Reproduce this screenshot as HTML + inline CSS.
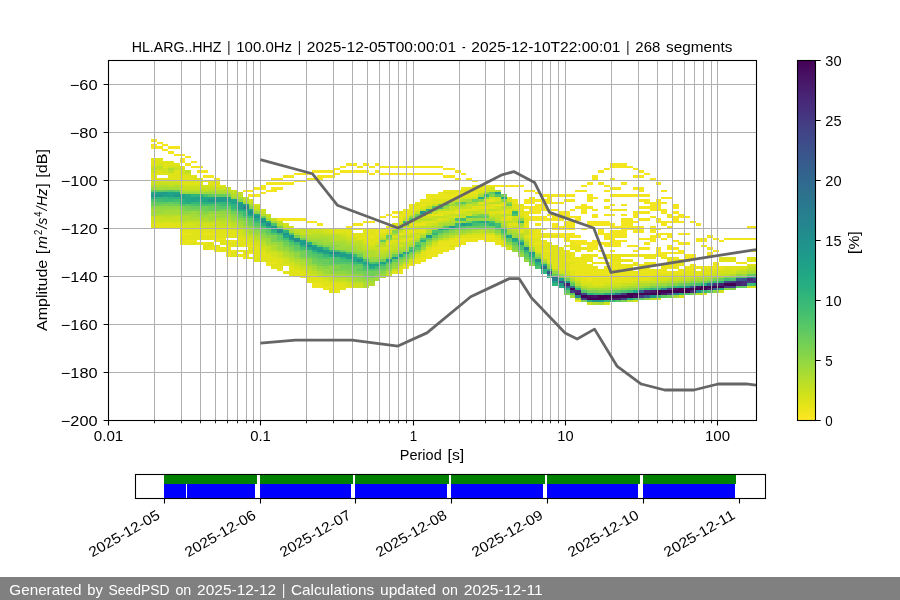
<!DOCTYPE html>
<html lang="en">
<head>
<meta charset="utf-8">
<title>HL.ARG..HHZ PPSD</title>
<style>
html,body{margin:0;padding:0;background:#fff;}
body{width:900px;height:600px;overflow:hidden;font-family:"Liberation Sans",sans-serif;}
svg{display:block;will-change:transform;}
text{white-space:pre;}
</style>
</head>
<body>
<svg width="900" height="600" viewBox="0 0 900 600">
<rect width="900" height="600" fill="#fff"/>
<g shape-rendering="crispEdges">
<path fill="#f4e61e" d="M151.00 139.20h5.78v2.45h-5.78zM156.73 141.60h5.78v2.45h-5.78zM151.00 144.00h5.78v2.45h-5.78zM162.47 144.00h5.78v2.45h-5.78zM151.00 146.40h11.52v2.45h-11.52zM168.20 146.40h11.52v2.45h-11.52zM162.47 148.80h5.78v2.45h-5.78zM168.20 151.20h5.78v2.45h-5.78zM173.93 153.60h11.52v2.45h-11.52zM185.40 156.00h5.78v2.45h-5.78zM179.67 158.40h5.78v2.45h-5.78zM179.67 160.80h5.78v2.45h-5.78zM191.13 160.80h5.78v2.45h-5.78zM185.40 163.20h5.78v2.45h-5.78zM345.94 163.20h11.52v2.45h-11.52zM363.14 163.20h5.78v2.45h-5.78zM374.60 163.20h5.78v2.45h-5.78zM609.67 163.20h17.25v2.45h-17.25zM191.13 165.60h11.52v2.45h-11.52zM340.20 165.60h5.78v2.45h-5.78zM357.40 165.60h5.78v2.45h-5.78zM368.87 165.60h5.78v2.45h-5.78zM380.34 165.60h63.12v2.45h-63.12zM609.67 165.60h22.98v2.45h-22.98zM334.47 168.00h5.78v2.45h-5.78zM443.40 168.00h11.52v2.45h-11.52zM603.94 168.00h5.78v2.45h-5.78zM632.61 168.00h5.78v2.45h-5.78zM196.87 170.40h11.52v2.45h-11.52zM311.54 170.40h22.98v2.45h-22.98zM340.20 170.40h28.72v2.45h-28.72zM374.60 170.40h5.78v2.45h-5.78zM454.87 170.40h5.78v2.45h-5.78zM598.21 170.40h5.78v2.45h-5.78zM638.34 170.40h5.78v2.45h-5.78zM294.34 172.80h17.25v2.45h-17.25zM334.47 172.80h5.78v2.45h-5.78zM368.87 172.80h5.78v2.45h-5.78zM380.34 172.80h63.12v2.45h-63.12zM460.61 172.80h5.78v2.45h-5.78zM644.07 172.80h5.78v2.45h-5.78zM202.60 175.20h11.52v2.45h-11.52zM282.87 175.20h11.52v2.45h-11.52zM317.27 175.20h17.25v2.45h-17.25zM443.40 175.20h11.52v2.45h-11.52zM592.47 175.20h5.78v2.45h-5.78zM632.61 175.20h11.52v2.45h-11.52zM214.07 177.60h5.78v2.45h-5.78zM271.40 177.60h11.52v2.45h-11.52zM305.80 177.60h17.25v2.45h-17.25zM454.87 177.60h5.78v2.45h-5.78zM466.34 177.60h5.78v2.45h-5.78zM592.47 177.60h5.78v2.45h-5.78zM609.67 177.60h5.78v2.45h-5.78zM649.81 177.60h5.78v2.45h-5.78zM294.34 180.00h11.52v2.45h-11.52zM472.07 180.00h5.78v2.45h-5.78zM265.67 182.40h28.72v2.45h-28.72zM586.74 182.40h5.78v2.45h-5.78zM598.21 182.40h5.78v2.45h-5.78zM621.14 182.40h5.78v2.45h-5.78zM655.54 182.40h5.78v2.45h-5.78zM259.94 184.80h5.78v2.45h-5.78zM495.01 184.80h28.72v2.45h-28.72zM581.01 184.80h5.78v2.45h-5.78zM603.94 184.80h5.78v2.45h-5.78zM254.20 187.20h11.52v2.45h-11.52zM271.40 187.20h11.52v2.45h-11.52zM609.67 187.20h11.52v2.45h-11.52zM632.61 187.20h11.52v2.45h-11.52zM242.73 189.60h11.52v2.45h-11.52zM265.67 189.60h11.52v2.45h-11.52zM523.67 189.60h11.52v2.45h-11.52zM575.27 189.60h11.52v2.45h-11.52zM603.94 189.60h5.78v2.45h-5.78zM638.34 189.60h5.78v2.45h-5.78zM661.28 189.60h5.78v2.45h-5.78zM259.94 192.00h5.78v2.45h-5.78zM535.14 192.00h5.78v2.45h-5.78zM248.47 194.40h11.52v2.45h-11.52zM540.87 194.40h34.45v2.45h-34.45zM586.74 194.40h5.78v2.45h-5.78zM609.67 194.40h40.18v2.45h-40.18zM529.41 196.80h5.78v2.45h-5.78zM546.61 196.80h5.78v2.45h-5.78zM586.74 196.80h11.52v2.45h-11.52zM661.28 196.80h11.52v2.45h-11.52zM523.67 199.20h28.72v2.45h-28.72zM563.81 199.20h11.52v2.45h-11.52zM586.74 199.20h5.78v2.45h-5.78zM603.94 199.20h5.78v2.45h-5.78zM638.34 199.20h11.52v2.45h-11.52zM655.54 199.20h5.78v2.45h-5.78zM523.67 201.60h11.52v2.45h-11.52zM540.87 201.60h22.98v2.45h-22.98zM644.07 201.60h22.98v2.45h-22.98zM535.14 204.00h11.52v2.45h-11.52zM581.01 204.00h5.78v2.45h-5.78zM609.67 204.00h5.78v2.45h-5.78zM621.14 204.00h5.78v2.45h-5.78zM649.81 204.00h11.52v2.45h-11.52zM672.74 204.00h5.78v2.45h-5.78zM523.67 206.40h22.98v2.45h-22.98zM575.27 206.40h17.25v2.45h-17.25zM603.94 206.40h5.78v2.45h-5.78zM638.34 206.40h22.98v2.45h-22.98zM672.74 206.40h5.78v2.45h-5.78zM529.41 208.80h28.72v2.45h-28.72zM569.54 208.80h5.78v2.45h-5.78zM581.01 208.80h5.78v2.45h-5.78zM592.47 208.80h5.78v2.45h-5.78zM609.67 208.80h17.25v2.45h-17.25zM649.81 208.80h17.25v2.45h-17.25zM391.80 211.20h5.78v2.45h-5.78zM529.41 211.20h11.52v2.45h-11.52zM558.07 211.20h11.52v2.45h-11.52zM581.01 211.20h5.78v2.45h-5.78zM632.61 211.20h17.25v2.45h-17.25zM661.28 211.20h5.78v2.45h-5.78zM672.74 211.20h5.78v2.45h-5.78zM386.07 213.60h5.78v2.45h-5.78zM546.61 213.60h22.98v2.45h-22.98zM592.47 213.60h5.78v2.45h-5.78zM603.94 213.60h11.52v2.45h-11.52zM621.14 213.60h5.78v2.45h-5.78zM632.61 213.60h5.78v2.45h-5.78zM667.01 213.60h5.78v2.45h-5.78zM678.48 213.60h5.78v2.45h-5.78zM380.34 216.00h5.78v2.45h-5.78zM391.80 216.00h5.78v2.45h-5.78zM529.41 216.00h17.25v2.45h-17.25zM552.34 216.00h28.72v2.45h-28.72zM592.47 216.00h5.78v2.45h-5.78zM632.61 216.00h5.78v2.45h-5.78zM649.81 216.00h5.78v2.45h-5.78zM667.01 216.00h22.98v2.45h-22.98zM277.14 218.40h28.72v2.45h-28.72zM529.41 218.40h34.45v2.45h-34.45zM575.27 218.40h5.78v2.45h-5.78zM621.14 218.40h11.52v2.45h-11.52zM638.34 218.40h11.52v2.45h-11.52zM655.54 218.40h5.78v2.45h-5.78zM672.74 218.40h5.78v2.45h-5.78zM305.80 220.80h11.52v2.45h-11.52zM363.14 220.80h11.52v2.45h-11.52zM563.81 220.80h11.52v2.45h-11.52zM586.74 220.80h22.98v2.45h-22.98zM621.14 220.80h17.25v2.45h-17.25zM655.54 220.80h28.72v2.45h-28.72zM689.94 220.80h5.78v2.45h-5.78zM317.27 223.20h5.78v2.45h-5.78zM351.67 223.20h11.52v2.45h-11.52zM535.14 223.20h5.78v2.45h-5.78zM552.34 223.20h5.78v2.45h-5.78zM563.81 223.20h11.52v2.45h-11.52zM586.74 223.20h28.72v2.45h-28.72zM621.14 223.20h11.52v2.45h-11.52zM661.28 223.20h5.78v2.45h-5.78zM695.68 223.20h5.78v2.45h-5.78zM345.94 225.60h5.78v2.45h-5.78zM552.34 225.60h22.98v2.45h-22.98zM609.67 225.60h34.45v2.45h-34.45zM649.81 225.60h5.78v2.45h-5.78zM667.01 225.60h5.78v2.45h-5.78zM747.28 225.60h8.77v2.45h-8.77zM540.87 228.00h5.78v2.45h-5.78zM552.34 228.00h22.98v2.45h-22.98zM581.01 228.00h5.78v2.45h-5.78zM598.21 228.00h5.78v2.45h-5.78zM621.14 228.00h22.98v2.45h-22.98zM649.81 228.00h11.52v2.45h-11.52zM598.21 230.40h5.78v2.45h-5.78zM609.67 230.40h17.25v2.45h-17.25zM632.61 230.40h11.52v2.45h-11.52zM649.81 230.40h5.78v2.45h-5.78zM552.34 232.80h22.98v2.45h-22.98zM598.21 232.80h28.72v2.45h-28.72zM655.54 232.80h17.25v2.45h-17.25zM678.48 232.80h11.52v2.45h-11.52zM558.07 235.20h22.98v2.45h-22.98zM603.94 235.20h22.98v2.45h-22.98zM649.81 235.20h11.52v2.45h-11.52zM667.01 235.20h5.78v2.45h-5.78zM707.14 235.20h5.78v2.45h-5.78zM563.81 237.60h5.78v2.45h-5.78zM603.94 237.60h11.52v2.45h-11.52zM638.34 237.60h17.25v2.45h-17.25zM661.28 237.60h5.78v2.45h-5.78zM695.68 237.60h11.52v2.45h-11.52zM712.88 237.60h5.78v2.45h-5.78zM724.34 237.60h31.71v2.45h-31.71zM569.54 240.00h17.25v2.45h-17.25zM592.47 240.00h5.78v2.45h-5.78zM609.67 240.00h17.25v2.45h-17.25zM649.81 240.00h5.78v2.45h-5.78zM672.74 240.00h5.78v2.45h-5.78zM695.68 240.00h11.52v2.45h-11.52zM718.61 240.00h5.78v2.45h-5.78zM575.27 242.40h45.92v2.45h-45.92zM644.07 242.40h5.78v2.45h-5.78zM678.48 242.40h11.52v2.45h-11.52zM586.74 244.80h11.52v2.45h-11.52zM603.94 244.80h17.25v2.45h-17.25zM626.87 244.80h11.52v2.45h-11.52zM667.01 244.80h5.78v2.45h-5.78zM701.41 244.80h5.78v2.45h-5.78zM586.74 247.20h11.52v2.45h-11.52zM638.34 247.20h11.52v2.45h-11.52zM655.54 247.20h5.78v2.45h-5.78zM667.01 247.20h11.52v2.45h-11.52zM707.14 247.20h5.78v2.45h-5.78zM598.21 249.60h5.78v2.45h-5.78zM609.67 249.60h5.78v2.45h-5.78zM632.61 249.60h5.78v2.45h-5.78zM655.54 249.60h5.78v2.45h-5.78zM678.48 249.60h5.78v2.45h-5.78zM712.88 249.60h5.78v2.45h-5.78zM747.28 249.60h8.77v2.45h-8.77zM655.54 252.00h28.72v2.45h-28.72zM707.14 252.00h5.78v2.45h-5.78zM661.28 254.40h5.78v2.45h-5.78zM684.21 254.40h11.52v2.45h-11.52zM707.14 254.40h5.78v2.45h-5.78zM672.74 256.80h5.78v2.45h-5.78zM684.21 256.80h11.52v2.45h-11.52zM735.81 261.60h11.52v2.45h-11.52z"/>
<path fill="#eae51a" d="M472.07 184.80h22.98v2.45h-22.98zM460.61 187.20h22.98v2.45h-22.98zM443.40 189.60h11.52v2.45h-11.52zM466.34 189.60h5.78v2.45h-5.78zM437.67 192.00h5.78v2.45h-5.78zM454.87 192.00h22.98v2.45h-22.98zM426.20 194.40h40.18v2.45h-40.18zM426.20 196.80h28.72v2.45h-28.72zM420.47 199.20h11.52v2.45h-11.52zM489.27 199.20h5.78v2.45h-5.78zM512.21 199.20h5.78v2.45h-5.78zM414.74 201.60h5.78v2.45h-5.78zM512.21 201.60h5.78v2.45h-5.78zM409.00 204.00h5.78v2.45h-5.78zM420.47 204.00h5.78v2.45h-5.78zM495.01 204.00h11.52v2.45h-11.52zM409.00 206.40h11.52v2.45h-11.52zM517.94 206.40h5.78v2.45h-5.78zM403.27 208.80h11.52v2.45h-11.52zM517.94 208.80h5.78v2.45h-5.78zM403.27 211.20h5.78v2.45h-5.78zM454.87 211.20h5.78v2.45h-5.78zM500.74 211.20h5.78v2.45h-5.78zM523.67 211.20h5.78v2.45h-5.78zM397.54 213.60h11.52v2.45h-11.52zM431.94 213.60h11.52v2.45h-11.52zM523.67 213.60h5.78v2.45h-5.78zM397.54 216.00h5.78v2.45h-5.78zM506.47 216.00h5.78v2.45h-5.78zM523.67 216.00h5.78v2.45h-5.78zM397.54 218.40h5.78v2.45h-5.78zM414.74 223.20h11.52v2.45h-11.52zM523.67 223.20h5.78v2.45h-5.78zM386.07 225.60h5.78v2.45h-5.78zM523.67 225.60h5.78v2.45h-5.78zM357.40 228.00h34.45v2.45h-34.45zM529.41 228.00h11.52v2.45h-11.52zM374.60 230.40h11.52v2.45h-11.52zM409.00 230.40h5.78v2.45h-5.78zM535.14 230.40h5.78v2.45h-5.78zM179.67 232.80h11.52v2.45h-11.52zM202.60 232.80h11.52v2.45h-11.52zM374.60 232.80h5.78v2.45h-5.78zM397.54 232.80h5.78v2.45h-5.78zM535.14 232.80h17.25v2.45h-17.25zM368.87 235.20h5.78v2.45h-5.78zM483.54 235.20h11.52v2.45h-11.52zM529.41 235.20h28.72v2.45h-28.72zM214.07 237.60h11.52v2.45h-11.52zM454.87 237.60h40.18v2.45h-40.18zM185.40 240.00h11.52v2.45h-11.52zM214.07 240.00h5.78v2.45h-5.78zM231.27 240.00h5.78v2.45h-5.78zM449.14 240.00h28.72v2.45h-28.72zM483.54 240.00h17.25v2.45h-17.25zM563.81 240.00h5.78v2.45h-5.78zM179.67 242.40h11.52v2.45h-11.52zM196.87 242.40h11.52v2.45h-11.52zM437.67 242.40h28.72v2.45h-28.72zM495.01 242.40h5.78v2.45h-5.78zM535.14 242.40h11.52v2.45h-11.52zM569.54 242.40h5.78v2.45h-5.78zM225.53 244.80h5.78v2.45h-5.78zM242.73 244.80h11.52v2.45h-11.52zM437.67 244.80h11.52v2.45h-11.52zM454.87 244.80h5.78v2.45h-5.78zM500.74 244.80h5.78v2.45h-5.78zM563.81 244.80h17.25v2.45h-17.25zM208.33 247.20h22.98v2.45h-22.98zM431.94 247.20h22.98v2.45h-22.98zM569.54 247.20h17.25v2.45h-17.25zM214.07 249.60h5.78v2.45h-5.78zM225.53 249.60h11.52v2.45h-11.52zM426.20 249.60h22.98v2.45h-22.98zM540.87 249.60h11.52v2.45h-11.52zM563.81 249.60h5.78v2.45h-5.78zM575.27 249.60h5.78v2.45h-5.78zM586.74 249.60h5.78v2.45h-5.78zM225.53 252.00h5.78v2.45h-5.78zM248.47 252.00h5.78v2.45h-5.78zM426.20 252.00h17.25v2.45h-17.25zM563.81 252.00h11.52v2.45h-11.52zM225.53 254.40h5.78v2.45h-5.78zM237.00 254.40h11.52v2.45h-11.52zM426.20 254.40h11.52v2.45h-11.52zM569.54 254.40h5.78v2.45h-5.78zM581.01 254.40h17.25v2.45h-17.25zM603.94 254.40h57.38v2.45h-57.38zM242.73 256.80h5.78v2.45h-5.78zM420.47 256.80h11.52v2.45h-11.52zM569.54 256.80h22.98v2.45h-22.98zM598.21 256.80h22.98v2.45h-22.98zM644.07 256.80h11.52v2.45h-11.52zM661.28 256.80h11.52v2.45h-11.52zM414.74 259.20h11.52v2.45h-11.52zM563.81 259.20h28.72v2.45h-28.72zM609.67 259.20h22.98v2.45h-22.98zM667.01 259.20h22.98v2.45h-22.98zM265.67 261.60h11.52v2.45h-11.52zM414.74 261.60h5.78v2.45h-5.78zM575.27 261.60h11.52v2.45h-11.52zM592.47 261.60h28.72v2.45h-28.72zM632.61 261.60h5.78v2.45h-5.78zM644.07 261.60h11.52v2.45h-11.52zM667.01 261.60h17.25v2.45h-17.25zM712.88 261.60h5.78v2.45h-5.78zM265.67 264.00h5.78v2.45h-5.78zM409.00 264.00h5.78v2.45h-5.78zM569.54 264.00h22.98v2.45h-22.98zM609.67 264.00h74.58v2.45h-74.58zM689.94 264.00h5.78v2.45h-5.78zM712.88 264.00h5.78v2.45h-5.78zM403.27 266.40h5.78v2.45h-5.78zM569.54 266.40h28.72v2.45h-28.72zM603.94 266.40h28.72v2.45h-28.72zM638.34 266.40h11.52v2.45h-11.52zM661.28 266.40h17.25v2.45h-17.25zM684.21 266.40h40.18v2.45h-40.18zM277.14 268.80h5.78v2.45h-5.78zM397.54 268.80h5.78v2.45h-5.78zM569.54 268.80h51.65v2.45h-51.65zM626.87 268.80h5.78v2.45h-5.78zM638.34 268.80h28.72v2.45h-28.72zM678.48 268.80h17.25v2.45h-17.25zM397.54 271.20h5.78v2.45h-5.78zM575.27 271.20h108.99v2.45h-108.99zM575.27 273.60h80.32v2.45h-80.32zM300.07 276.00h5.78v2.45h-5.78zM581.01 276.00h45.92v2.45h-45.92zM586.74 278.40h5.78v2.45h-5.78zM609.67 278.40h5.78v2.45h-5.78zM311.54 283.20h11.52v2.45h-11.52zM311.54 285.60h22.98v2.45h-22.98zM323.00 288.00h5.78v2.45h-5.78zM334.47 290.40h5.78v2.45h-5.78zM575.27 300.00h5.78v2.45h-5.78z"/>
<path fill="#dfe318" d="M151.00 158.40h11.52v2.45h-11.52zM151.00 160.80h22.98v2.45h-22.98zM151.00 163.20h5.78v2.45h-5.78zM162.47 163.20h17.25v2.45h-17.25zM162.47 165.60h5.78v2.45h-5.78zM179.67 165.60h5.78v2.45h-5.78zM156.73 170.40h5.78v2.45h-5.78zM173.93 170.40h5.78v2.45h-5.78zM151.00 172.80h28.72v2.45h-28.72zM151.00 175.20h5.78v2.45h-5.78zM168.20 175.20h28.72v2.45h-28.72zM151.00 177.60h51.65v2.45h-51.65zM156.73 180.00h5.78v2.45h-5.78zM173.93 180.00h45.92v2.45h-45.92zM179.67 182.40h22.98v2.45h-22.98zM208.33 182.40h11.52v2.45h-11.52zM214.07 184.80h11.52v2.45h-11.52zM483.54 187.20h5.78v2.45h-5.78zM454.87 189.60h11.52v2.45h-11.52zM472.07 189.60h11.52v2.45h-11.52zM443.40 192.00h11.52v2.45h-11.52zM466.34 194.40h11.52v2.45h-11.52zM454.87 196.80h5.78v2.45h-5.78zM506.47 196.80h5.78v2.45h-5.78zM431.94 199.20h17.25v2.45h-17.25zM483.54 199.20h5.78v2.45h-5.78zM420.47 201.60h17.25v2.45h-17.25zM477.81 201.60h5.78v2.45h-5.78zM414.74 204.00h5.78v2.45h-5.78zM426.20 204.00h5.78v2.45h-5.78zM489.27 204.00h5.78v2.45h-5.78zM512.21 204.00h11.52v2.45h-11.52zM420.47 206.40h5.78v2.45h-5.78zM472.07 206.40h22.98v2.45h-22.98zM512.21 206.40h5.78v2.45h-5.78zM414.74 208.80h5.78v2.45h-5.78zM454.87 208.80h22.98v2.45h-22.98zM506.47 208.80h5.78v2.45h-5.78zM397.54 211.20h5.78v2.45h-5.78zM409.00 211.20h5.78v2.45h-5.78zM437.67 211.20h17.25v2.45h-17.25zM489.27 211.20h11.52v2.45h-11.52zM506.47 211.20h5.78v2.45h-5.78zM517.94 211.20h5.78v2.45h-5.78zM426.20 213.60h5.78v2.45h-5.78zM517.94 213.60h5.78v2.45h-5.78zM403.27 216.00h5.78v2.45h-5.78zM437.67 218.40h5.78v2.45h-5.78zM500.74 218.40h11.52v2.45h-11.52zM523.67 218.40h5.78v2.45h-5.78zM397.54 220.80h5.78v2.45h-5.78zM420.47 220.80h17.25v2.45h-17.25zM523.67 220.80h5.78v2.45h-5.78zM151.00 223.20h28.72v2.45h-28.72zM391.80 223.20h5.78v2.45h-5.78zM409.00 223.20h5.78v2.45h-5.78zM506.47 223.20h11.52v2.45h-11.52zM151.00 225.60h34.45v2.45h-34.45zM391.80 225.60h5.78v2.45h-5.78zM179.67 228.00h51.65v2.45h-51.65zM323.00 228.00h34.45v2.45h-34.45zM420.47 228.00h5.78v2.45h-5.78zM517.94 228.00h11.52v2.45h-11.52zM179.67 230.40h57.38v2.45h-57.38zM328.74 230.40h22.98v2.45h-22.98zM363.14 230.40h11.52v2.45h-11.52zM386.07 230.40h5.78v2.45h-5.78zM403.27 230.40h5.78v2.45h-5.78zM414.74 230.40h11.52v2.45h-11.52zM517.94 230.40h5.78v2.45h-5.78zM529.41 230.40h5.78v2.45h-5.78zM191.13 232.80h11.52v2.45h-11.52zM214.07 232.80h22.98v2.45h-22.98zM345.94 232.80h28.72v2.45h-28.72zM380.34 232.80h5.78v2.45h-5.78zM403.27 232.80h5.78v2.45h-5.78zM529.41 232.80h5.78v2.45h-5.78zM179.67 235.20h63.12v2.45h-63.12zM351.67 235.20h17.25v2.45h-17.25zM374.60 235.20h5.78v2.45h-5.78zM460.61 235.20h22.98v2.45h-22.98zM523.67 235.20h5.78v2.45h-5.78zM179.67 237.60h34.45v2.45h-34.45zM237.00 237.60h11.52v2.45h-11.52zM357.40 237.60h22.98v2.45h-22.98zM403.27 237.60h11.52v2.45h-11.52zM449.14 237.60h5.78v2.45h-5.78zM495.01 237.60h5.78v2.45h-5.78zM529.41 237.60h11.52v2.45h-11.52zM179.67 240.00h5.78v2.45h-5.78zM219.80 240.00h11.52v2.45h-11.52zM237.00 240.00h11.52v2.45h-11.52zM363.14 240.00h17.25v2.45h-17.25zM391.80 240.00h17.25v2.45h-17.25zM437.67 240.00h11.52v2.45h-11.52zM529.41 240.00h17.25v2.45h-17.25zM191.13 242.40h5.78v2.45h-5.78zM208.33 242.40h5.78v2.45h-5.78zM219.80 242.40h34.45v2.45h-34.45zM368.87 242.40h5.78v2.45h-5.78zM386.07 242.40h5.78v2.45h-5.78zM500.74 242.40h5.78v2.45h-5.78zM529.41 242.40h5.78v2.45h-5.78zM546.61 242.40h5.78v2.45h-5.78zM202.60 244.80h17.25v2.45h-17.25zM231.27 244.80h11.52v2.45h-11.52zM254.20 244.80h5.78v2.45h-5.78zM431.94 244.80h5.78v2.45h-5.78zM449.14 244.80h5.78v2.45h-5.78zM535.14 244.80h22.98v2.45h-22.98zM202.60 247.20h5.78v2.45h-5.78zM248.47 247.20h11.52v2.45h-11.52zM426.20 247.20h5.78v2.45h-5.78zM535.14 247.20h28.72v2.45h-28.72zM219.80 249.60h5.78v2.45h-5.78zM237.00 249.60h28.72v2.45h-28.72zM535.14 249.60h5.78v2.45h-5.78zM552.34 249.60h11.52v2.45h-11.52zM231.27 252.00h5.78v2.45h-5.78zM242.73 252.00h5.78v2.45h-5.78zM254.20 252.00h11.52v2.45h-11.52zM420.47 252.00h5.78v2.45h-5.78zM540.87 252.00h22.98v2.45h-22.98zM231.27 254.40h5.78v2.45h-5.78zM254.20 254.40h17.25v2.45h-17.25zM420.47 254.40h5.78v2.45h-5.78zM540.87 254.40h28.72v2.45h-28.72zM248.47 256.80h28.72v2.45h-28.72zM414.74 256.80h5.78v2.45h-5.78zM540.87 256.80h28.72v2.45h-28.72zM718.61 256.80h17.25v2.45h-17.25zM747.28 256.80h8.77v2.45h-8.77zM254.20 259.20h28.72v2.45h-28.72zM546.61 259.20h17.25v2.45h-17.25zM718.61 259.20h17.25v2.45h-17.25zM747.28 259.20h8.77v2.45h-8.77zM277.14 261.60h5.78v2.45h-5.78zM409.00 261.60h5.78v2.45h-5.78zM552.34 261.60h22.98v2.45h-22.98zM271.40 264.00h17.25v2.45h-17.25zM403.27 264.00h5.78v2.45h-5.78zM552.34 264.00h17.25v2.45h-17.25zM747.28 264.00h8.77v2.45h-8.77zM271.40 266.40h11.52v2.45h-11.52zM288.60 266.40h5.78v2.45h-5.78zM552.34 266.40h17.25v2.45h-17.25zM724.34 266.40h22.98v2.45h-22.98zM288.60 268.80h11.52v2.45h-11.52zM558.07 268.80h11.52v2.45h-11.52zM701.41 268.80h22.98v2.45h-22.98zM730.08 268.80h5.78v2.45h-5.78zM282.87 271.20h22.98v2.45h-22.98zM391.80 271.20h5.78v2.45h-5.78zM569.54 271.20h5.78v2.45h-5.78zM684.21 271.20h28.72v2.45h-28.72zM288.60 273.60h17.25v2.45h-17.25zM569.54 273.60h5.78v2.45h-5.78zM655.54 273.60h45.92v2.45h-45.92zM305.80 276.00h11.52v2.45h-11.52zM575.27 276.00h5.78v2.45h-5.78zM626.87 276.00h45.92v2.45h-45.92zM305.80 278.40h17.25v2.45h-17.25zM581.01 278.40h5.78v2.45h-5.78zM592.47 278.40h17.25v2.45h-17.25zM615.41 278.40h34.45v2.45h-34.45zM305.80 280.80h22.98v2.45h-22.98zM581.01 280.80h51.65v2.45h-51.65zM323.00 283.20h22.98v2.45h-22.98zM592.47 283.20h11.52v2.45h-11.52zM334.47 285.60h17.25v2.45h-17.25zM328.74 288.00h17.25v2.45h-17.25zM328.74 290.40h5.78v2.45h-5.78z"/>
<path fill="#d2e21b" d="M156.73 163.20h5.78v2.45h-5.78zM168.20 165.60h11.52v2.45h-11.52zM162.47 168.00h5.78v2.45h-5.78zM179.67 168.00h5.78v2.45h-5.78zM151.00 170.40h5.78v2.45h-5.78zM162.47 170.40h5.78v2.45h-5.78zM179.67 170.40h5.78v2.45h-5.78zM179.67 172.80h11.52v2.45h-11.52zM151.00 180.00h5.78v2.45h-5.78zM162.47 180.00h11.52v2.45h-11.52zM185.40 184.80h28.72v2.45h-28.72zM489.27 187.20h5.78v2.45h-5.78zM483.54 189.60h5.78v2.45h-5.78zM477.81 192.00h5.78v2.45h-5.78zM460.61 196.80h11.52v2.45h-11.52zM489.27 196.80h11.52v2.45h-11.52zM248.47 199.20h5.78v2.45h-5.78zM449.14 199.20h5.78v2.45h-5.78zM495.01 199.20h5.78v2.45h-5.78zM506.47 199.20h5.78v2.45h-5.78zM437.67 201.60h5.78v2.45h-5.78zM500.74 201.60h5.78v2.45h-5.78zM254.20 204.00h5.78v2.45h-5.78zM495.01 206.40h5.78v2.45h-5.78zM259.94 208.80h5.78v2.45h-5.78zM477.81 208.80h5.78v2.45h-5.78zM500.74 208.80h5.78v2.45h-5.78zM460.61 211.20h5.78v2.45h-5.78zM483.54 211.20h5.78v2.45h-5.78zM409.00 213.60h5.78v2.45h-5.78zM443.40 213.60h5.78v2.45h-5.78zM466.34 213.60h5.78v2.45h-5.78zM489.27 213.60h5.78v2.45h-5.78zM420.47 216.00h11.52v2.45h-11.52zM449.14 216.00h11.52v2.45h-11.52zM500.74 216.00h5.78v2.45h-5.78zM512.21 216.00h11.52v2.45h-11.52zM151.00 218.40h5.78v2.45h-5.78zM443.40 218.40h5.78v2.45h-5.78zM151.00 220.80h28.72v2.45h-28.72zM179.67 223.20h17.25v2.45h-17.25zM202.60 223.20h11.52v2.45h-11.52zM282.87 223.20h5.78v2.45h-5.78zM426.20 223.20h5.78v2.45h-5.78zM185.40 225.60h45.92v2.45h-45.92zM288.60 225.60h5.78v2.45h-5.78zM403.27 225.60h11.52v2.45h-11.52zM506.47 225.60h5.78v2.45h-5.78zM231.27 228.00h5.78v2.45h-5.78zM294.34 228.00h5.78v2.45h-5.78zM311.54 228.00h11.52v2.45h-11.52zM414.74 228.00h5.78v2.45h-5.78zM512.21 228.00h5.78v2.45h-5.78zM237.00 230.40h5.78v2.45h-5.78zM323.00 230.40h5.78v2.45h-5.78zM237.00 232.80h5.78v2.45h-5.78zM334.47 232.80h11.52v2.45h-11.52zM409.00 232.80h5.78v2.45h-5.78zM472.07 232.80h22.98v2.45h-22.98zM242.73 235.20h5.78v2.45h-5.78zM345.94 235.20h5.78v2.45h-5.78zM380.34 235.20h5.78v2.45h-5.78zM391.80 235.20h5.78v2.45h-5.78zM414.74 235.20h5.78v2.45h-5.78zM454.87 235.20h5.78v2.45h-5.78zM495.01 235.20h5.78v2.45h-5.78zM248.47 237.60h5.78v2.45h-5.78zM351.67 237.60h5.78v2.45h-5.78zM397.54 237.60h5.78v2.45h-5.78zM248.47 240.00h5.78v2.45h-5.78zM386.07 240.00h5.78v2.45h-5.78zM500.74 240.00h5.78v2.45h-5.78zM254.20 242.40h5.78v2.45h-5.78zM363.14 242.40h5.78v2.45h-5.78zM374.60 242.40h5.78v2.45h-5.78zM391.80 242.40h5.78v2.45h-5.78zM431.94 242.40h5.78v2.45h-5.78zM368.87 244.80h5.78v2.45h-5.78zM397.54 244.80h5.78v2.45h-5.78zM529.41 244.80h5.78v2.45h-5.78zM259.94 247.20h5.78v2.45h-5.78zM380.34 247.20h11.52v2.45h-11.52zM506.47 247.20h5.78v2.45h-5.78zM420.47 249.60h5.78v2.45h-5.78zM265.67 252.00h11.52v2.45h-11.52zM271.40 254.40h5.78v2.45h-5.78zM414.74 254.40h5.78v2.45h-5.78zM277.14 256.80h5.78v2.45h-5.78zM282.87 259.20h5.78v2.45h-5.78zM409.00 259.20h5.78v2.45h-5.78zM282.87 261.60h11.52v2.45h-11.52zM546.61 261.60h5.78v2.45h-5.78zM288.60 264.00h5.78v2.45h-5.78zM294.34 266.40h5.78v2.45h-5.78zM397.54 266.40h5.78v2.45h-5.78zM300.07 268.80h5.78v2.45h-5.78zM724.34 268.80h5.78v2.45h-5.78zM735.81 268.80h5.78v2.45h-5.78zM558.07 271.20h11.52v2.45h-11.52zM712.88 271.20h22.98v2.45h-22.98zM305.80 273.60h11.52v2.45h-11.52zM701.41 273.60h11.52v2.45h-11.52zM317.27 276.00h5.78v2.45h-5.78zM569.54 276.00h5.78v2.45h-5.78zM672.74 276.00h22.98v2.45h-22.98zM323.00 278.40h5.78v2.45h-5.78zM575.27 278.40h5.78v2.45h-5.78zM649.81 278.40h17.25v2.45h-17.25zM328.74 280.80h17.25v2.45h-17.25zM632.61 280.80h5.78v2.45h-5.78zM345.94 283.20h5.78v2.45h-5.78zM581.01 283.20h11.52v2.45h-11.52zM603.94 283.20h17.25v2.45h-17.25zM351.67 285.60h5.78v2.45h-5.78zM747.28 285.60h8.77v2.45h-8.77zM718.61 290.40h5.78v2.45h-5.78zM701.41 292.80h5.78v2.45h-5.78zM678.48 295.20h5.78v2.45h-5.78zM655.54 297.60h5.78v2.45h-5.78zM632.61 300.00h5.78v2.45h-5.78zM603.94 302.40h5.78v2.45h-5.78z"/>
<path fill="#c8e020" d="M151.00 165.60h5.78v2.45h-5.78zM156.73 168.00h5.78v2.45h-5.78zM173.93 168.00h5.78v2.45h-5.78zM151.00 182.40h28.72v2.45h-28.72zM179.67 184.80h5.78v2.45h-5.78zM179.67 187.20h51.65v2.45h-51.65zM231.27 189.60h5.78v2.45h-5.78zM489.27 189.60h5.78v2.45h-5.78zM237.00 192.00h5.78v2.45h-5.78zM472.07 196.80h5.78v2.45h-5.78zM454.87 199.20h5.78v2.45h-5.78zM248.47 201.60h5.78v2.45h-5.78zM443.40 201.60h5.78v2.45h-5.78zM483.54 201.60h5.78v2.45h-5.78zM431.94 204.00h5.78v2.45h-5.78zM466.34 204.00h5.78v2.45h-5.78zM477.81 204.00h11.52v2.45h-11.52zM254.20 206.40h5.78v2.45h-5.78zM449.14 206.40h5.78v2.45h-5.78zM466.34 206.40h5.78v2.45h-5.78zM449.14 208.80h5.78v2.45h-5.78zM483.54 208.80h5.78v2.45h-5.78zM495.01 208.80h5.78v2.45h-5.78zM512.21 208.80h5.78v2.45h-5.78zM259.94 211.20h5.78v2.45h-5.78zM414.74 211.20h5.78v2.45h-5.78zM431.94 211.20h5.78v2.45h-5.78zM466.34 211.20h5.78v2.45h-5.78zM477.81 211.20h5.78v2.45h-5.78zM265.67 213.60h5.78v2.45h-5.78zM449.14 213.60h5.78v2.45h-5.78zM495.01 213.60h5.78v2.45h-5.78zM151.00 216.00h11.52v2.45h-11.52zM173.93 216.00h5.78v2.45h-5.78zM431.94 216.00h5.78v2.45h-5.78zM443.40 216.00h5.78v2.45h-5.78zM460.61 216.00h5.78v2.45h-5.78zM495.01 216.00h5.78v2.45h-5.78zM156.73 218.40h22.98v2.45h-22.98zM271.40 218.40h5.78v2.45h-5.78zM403.27 218.40h5.78v2.45h-5.78zM431.94 218.40h5.78v2.45h-5.78zM512.21 218.40h5.78v2.45h-5.78zM185.40 220.80h17.25v2.45h-17.25zM214.07 220.80h5.78v2.45h-5.78zM277.14 220.80h5.78v2.45h-5.78zM414.74 220.80h5.78v2.45h-5.78zM437.67 220.80h5.78v2.45h-5.78zM512.21 220.80h5.78v2.45h-5.78zM196.87 223.20h5.78v2.45h-5.78zM214.07 223.20h17.25v2.45h-17.25zM397.54 223.20h5.78v2.45h-5.78zM431.94 223.20h5.78v2.45h-5.78zM231.27 225.60h5.78v2.45h-5.78zM282.87 225.60h5.78v2.45h-5.78zM414.74 225.60h5.78v2.45h-5.78zM512.21 225.60h5.78v2.45h-5.78zM237.00 228.00h5.78v2.45h-5.78zM288.60 228.00h5.78v2.45h-5.78zM300.07 228.00h11.52v2.45h-11.52zM391.80 228.00h5.78v2.45h-5.78zM409.00 228.00h5.78v2.45h-5.78zM300.07 230.40h22.98v2.45h-22.98zM397.54 230.40h5.78v2.45h-5.78zM523.67 230.40h5.78v2.45h-5.78zM242.73 232.80h5.78v2.45h-5.78zM300.07 232.80h11.52v2.45h-11.52zM323.00 232.80h11.52v2.45h-11.52zM386.07 232.80h5.78v2.45h-5.78zM414.74 232.80h11.52v2.45h-11.52zM466.34 232.80h5.78v2.45h-5.78zM523.67 232.80h5.78v2.45h-5.78zM248.47 235.20h5.78v2.45h-5.78zM340.20 235.20h5.78v2.45h-5.78zM397.54 235.20h5.78v2.45h-5.78zM409.00 235.20h5.78v2.45h-5.78zM345.94 237.60h5.78v2.45h-5.78zM443.40 237.60h5.78v2.45h-5.78zM523.67 237.60h5.78v2.45h-5.78zM254.20 240.00h5.78v2.45h-5.78zM351.67 240.00h11.52v2.45h-11.52zM409.00 240.00h5.78v2.45h-5.78zM397.54 242.40h5.78v2.45h-5.78zM259.94 244.80h5.78v2.45h-5.78zM363.14 244.80h5.78v2.45h-5.78zM386.07 244.80h11.52v2.45h-11.52zM265.67 247.20h5.78v2.45h-5.78zM368.87 247.20h11.52v2.45h-11.52zM391.80 247.20h5.78v2.45h-5.78zM265.67 249.60h5.78v2.45h-5.78zM380.34 249.60h5.78v2.45h-5.78zM277.14 252.00h5.78v2.45h-5.78zM535.14 252.00h5.78v2.45h-5.78zM277.14 254.40h5.78v2.45h-5.78zM282.87 256.80h5.78v2.45h-5.78zM294.34 264.00h5.78v2.45h-5.78zM300.07 266.40h5.78v2.45h-5.78zM747.28 266.40h8.77v2.45h-8.77zM391.80 268.80h5.78v2.45h-5.78zM741.54 268.80h5.78v2.45h-5.78zM305.80 271.20h5.78v2.45h-5.78zM386.07 273.60h5.78v2.45h-5.78zM563.81 273.60h5.78v2.45h-5.78zM712.88 273.60h11.52v2.45h-11.52zM323.00 276.00h5.78v2.45h-5.78zM695.68 276.00h5.78v2.45h-5.78zM328.74 278.40h5.78v2.45h-5.78zM667.01 278.40h17.25v2.45h-17.25zM345.94 280.80h5.78v2.45h-5.78zM575.27 280.80h5.78v2.45h-5.78zM638.34 280.80h22.98v2.45h-22.98zM351.67 283.20h11.52v2.45h-11.52zM621.14 283.20h11.52v2.45h-11.52zM357.40 285.60h5.78v2.45h-5.78zM586.74 285.60h17.25v2.45h-17.25zM586.74 302.40h5.78v2.45h-5.78z"/>
<path fill="#bddf26" d="M156.73 165.60h5.78v2.45h-5.78zM151.00 168.00h5.78v2.45h-5.78zM168.20 170.40h5.78v2.45h-5.78zM185.40 170.40h5.78v2.45h-5.78zM168.20 184.80h5.78v2.45h-5.78zM202.60 189.60h5.78v2.45h-5.78zM225.53 189.60h5.78v2.45h-5.78zM231.27 192.00h5.78v2.45h-5.78zM237.00 194.40h5.78v2.45h-5.78zM242.73 196.80h5.78v2.45h-5.78zM489.27 201.60h11.52v2.45h-11.52zM472.07 204.00h5.78v2.45h-5.78zM426.20 206.40h5.78v2.45h-5.78zM454.87 206.40h11.52v2.45h-11.52zM500.74 206.40h11.52v2.45h-11.52zM254.20 208.80h5.78v2.45h-5.78zM420.47 208.80h5.78v2.45h-5.78zM443.40 208.80h5.78v2.45h-5.78zM489.27 208.80h5.78v2.45h-5.78zM472.07 211.20h5.78v2.45h-5.78zM454.87 213.60h11.52v2.45h-11.52zM500.74 213.60h11.52v2.45h-11.52zM162.47 216.00h11.52v2.45h-11.52zM265.67 216.00h5.78v2.45h-5.78zM437.67 216.00h5.78v2.45h-5.78zM489.27 216.00h5.78v2.45h-5.78zM414.74 218.40h17.25v2.45h-17.25zM449.14 218.40h5.78v2.45h-5.78zM495.01 218.40h5.78v2.45h-5.78zM179.67 220.80h5.78v2.45h-5.78zM202.60 220.80h11.52v2.45h-11.52zM219.80 220.80h11.52v2.45h-11.52zM443.40 220.80h5.78v2.45h-5.78zM500.74 220.80h11.52v2.45h-11.52zM231.27 223.20h5.78v2.45h-5.78zM420.47 225.60h11.52v2.45h-11.52zM517.94 225.60h5.78v2.45h-5.78zM242.73 228.00h5.78v2.45h-5.78zM403.27 228.00h5.78v2.45h-5.78zM426.20 228.00h5.78v2.45h-5.78zM506.47 228.00h5.78v2.45h-5.78zM242.73 230.40h5.78v2.45h-5.78zM294.34 230.40h5.78v2.45h-5.78zM477.81 230.40h5.78v2.45h-5.78zM311.54 232.80h11.52v2.45h-11.52zM517.94 232.80h5.78v2.45h-5.78zM334.47 235.20h5.78v2.45h-5.78zM403.27 235.20h5.78v2.45h-5.78zM449.14 235.20h5.78v2.45h-5.78zM254.20 237.60h5.78v2.45h-5.78zM334.47 237.60h11.52v2.45h-11.52zM391.80 237.60h5.78v2.45h-5.78zM414.74 237.60h5.78v2.45h-5.78zM345.94 240.00h5.78v2.45h-5.78zM523.67 240.00h5.78v2.45h-5.78zM259.94 242.40h5.78v2.45h-5.78zM351.67 242.40h11.52v2.45h-11.52zM403.27 242.40h11.52v2.45h-11.52zM265.67 244.80h5.78v2.45h-5.78zM380.34 244.80h5.78v2.45h-5.78zM403.27 244.80h5.78v2.45h-5.78zM426.20 244.80h5.78v2.45h-5.78zM506.47 244.80h5.78v2.45h-5.78zM363.14 247.20h5.78v2.45h-5.78zM271.40 249.60h5.78v2.45h-5.78zM374.60 249.60h5.78v2.45h-5.78zM386.07 249.60h5.78v2.45h-5.78zM374.60 252.00h11.52v2.45h-11.52zM288.60 259.20h5.78v2.45h-5.78zM294.34 261.60h5.78v2.45h-5.78zM403.27 261.60h5.78v2.45h-5.78zM305.80 268.80h5.78v2.45h-5.78zM552.34 268.80h5.78v2.45h-5.78zM747.28 268.80h8.77v2.45h-8.77zM311.54 271.20h5.78v2.45h-5.78zM735.81 271.20h11.52v2.45h-11.52zM317.27 273.60h5.78v2.45h-5.78zM724.34 273.60h5.78v2.45h-5.78zM328.74 276.00h5.78v2.45h-5.78zM701.41 276.00h11.52v2.45h-11.52zM334.47 278.40h11.52v2.45h-11.52zM684.21 278.40h5.78v2.45h-5.78zM661.28 280.80h5.78v2.45h-5.78zM632.61 283.20h5.78v2.45h-5.78zM603.94 285.60h17.25v2.45h-17.25zM649.81 297.60h5.78v2.45h-5.78z"/>
<path fill="#b2dd2d" d="M168.20 168.00h5.78v2.45h-5.78zM151.00 184.80h17.25v2.45h-17.25zM173.93 184.80h5.78v2.45h-5.78zM179.67 189.60h22.98v2.45h-22.98zM208.33 189.60h17.25v2.45h-17.25zM495.01 189.60h5.78v2.45h-5.78zM231.27 194.40h5.78v2.45h-5.78zM242.73 199.20h5.78v2.45h-5.78zM460.61 199.20h5.78v2.45h-5.78zM449.14 201.60h5.78v2.45h-5.78zM437.67 208.80h5.78v2.45h-5.78zM156.73 213.60h22.98v2.45h-22.98zM259.94 213.60h5.78v2.45h-5.78zM179.67 216.00h11.52v2.45h-11.52zM179.67 218.40h28.72v2.45h-28.72zM214.07 218.40h17.25v2.45h-17.25zM231.27 220.80h5.78v2.45h-5.78zM409.00 220.80h5.78v2.45h-5.78zM449.14 220.80h5.78v2.45h-5.78zM277.14 223.20h5.78v2.45h-5.78zM437.67 223.20h5.78v2.45h-5.78zM500.74 223.20h5.78v2.45h-5.78zM237.00 225.60h5.78v2.45h-5.78zM431.94 225.60h5.78v2.45h-5.78zM426.20 230.40h5.78v2.45h-5.78zM472.07 230.40h5.78v2.45h-5.78zM483.54 230.40h5.78v2.45h-5.78zM512.21 230.40h5.78v2.45h-5.78zM248.47 232.80h5.78v2.45h-5.78zM294.34 232.80h5.78v2.45h-5.78zM460.61 232.80h5.78v2.45h-5.78zM254.20 235.20h5.78v2.45h-5.78zM305.80 235.20h28.72v2.45h-28.72zM517.94 235.20h5.78v2.45h-5.78zM328.74 237.60h5.78v2.45h-5.78zM380.34 237.60h5.78v2.45h-5.78zM437.67 237.60h5.78v2.45h-5.78zM500.74 237.60h5.78v2.45h-5.78zM259.94 240.00h5.78v2.45h-5.78zM328.74 240.00h17.25v2.45h-17.25zM431.94 240.00h5.78v2.45h-5.78zM345.94 242.40h5.78v2.45h-5.78zM380.34 242.40h5.78v2.45h-5.78zM271.40 244.80h5.78v2.45h-5.78zM351.67 244.80h11.52v2.45h-11.52zM374.60 244.80h5.78v2.45h-5.78zM271.40 247.20h5.78v2.45h-5.78zM357.40 247.20h5.78v2.45h-5.78zM397.54 247.20h11.52v2.45h-11.52zM529.41 247.20h5.78v2.45h-5.78zM277.14 249.60h5.78v2.45h-5.78zM363.14 249.60h11.52v2.45h-11.52zM391.80 249.60h5.78v2.45h-5.78zM282.87 252.00h5.78v2.45h-5.78zM368.87 252.00h5.78v2.45h-5.78zM386.07 252.00h5.78v2.45h-5.78zM414.74 252.00h5.78v2.45h-5.78zM282.87 254.40h5.78v2.45h-5.78zM368.87 254.40h17.25v2.45h-17.25zM288.60 256.80h5.78v2.45h-5.78zM294.34 259.20h5.78v2.45h-5.78zM540.87 259.20h5.78v2.45h-5.78zM300.07 261.60h5.78v2.45h-5.78zM300.07 264.00h5.78v2.45h-5.78zM397.54 264.00h5.78v2.45h-5.78zM305.80 266.40h5.78v2.45h-5.78zM311.54 268.80h5.78v2.45h-5.78zM317.27 271.20h5.78v2.45h-5.78zM386.07 271.20h5.78v2.45h-5.78zM323.00 273.60h11.52v2.45h-11.52zM730.08 273.60h5.78v2.45h-5.78zM334.47 276.00h5.78v2.45h-5.78zM380.34 276.00h5.78v2.45h-5.78zM563.81 276.00h5.78v2.45h-5.78zM712.88 276.00h5.78v2.45h-5.78zM345.94 278.40h5.78v2.45h-5.78zM569.54 278.40h5.78v2.45h-5.78zM689.94 278.40h5.78v2.45h-5.78zM351.67 280.80h11.52v2.45h-11.52zM667.01 280.80h11.52v2.45h-11.52zM363.14 283.20h11.52v2.45h-11.52zM575.27 283.20h5.78v2.45h-5.78zM638.34 283.20h11.52v2.45h-11.52zM363.14 285.60h5.78v2.45h-5.78zM581.01 285.60h5.78v2.45h-5.78zM621.14 285.60h5.78v2.45h-5.78zM695.68 292.80h5.78v2.45h-5.78zM626.87 300.00h5.78v2.45h-5.78zM592.47 302.40h5.78v2.45h-5.78z"/>
<path fill="#a5db36" d="M156.73 187.20h22.98v2.45h-22.98zM196.87 192.00h5.78v2.45h-5.78zM214.07 192.00h17.25v2.45h-17.25zM477.81 194.40h5.78v2.45h-5.78zM237.00 196.80h5.78v2.45h-5.78zM466.34 199.20h5.78v2.45h-5.78zM472.07 201.60h5.78v2.45h-5.78zM248.47 204.00h5.78v2.45h-5.78zM151.00 208.80h5.78v2.45h-5.78zM173.93 208.80h5.78v2.45h-5.78zM151.00 211.20h5.78v2.45h-5.78zM162.47 211.20h17.25v2.45h-17.25zM151.00 213.60h5.78v2.45h-5.78zM179.67 213.60h17.25v2.45h-17.25zM208.33 213.60h11.52v2.45h-11.52zM191.13 216.00h22.98v2.45h-22.98zM225.53 216.00h5.78v2.45h-5.78zM208.33 218.40h5.78v2.45h-5.78zM265.67 218.40h5.78v2.45h-5.78zM466.34 218.40h5.78v2.45h-5.78zM483.54 218.40h11.52v2.45h-11.52zM271.40 220.80h5.78v2.45h-5.78zM454.87 220.80h5.78v2.45h-5.78zM495.01 220.80h5.78v2.45h-5.78zM237.00 223.20h5.78v2.45h-5.78zM443.40 223.20h5.78v2.45h-5.78zM517.94 223.20h5.78v2.45h-5.78zM242.73 225.60h5.78v2.45h-5.78zM248.47 228.00h5.78v2.45h-5.78zM431.94 228.00h5.78v2.45h-5.78zM248.47 230.40h5.78v2.45h-5.78zM288.60 230.40h5.78v2.45h-5.78zM466.34 230.40h5.78v2.45h-5.78zM489.27 230.40h5.78v2.45h-5.78zM506.47 230.40h5.78v2.45h-5.78zM391.80 232.80h5.78v2.45h-5.78zM454.87 232.80h5.78v2.45h-5.78zM495.01 232.80h5.78v2.45h-5.78zM512.21 232.80h5.78v2.45h-5.78zM300.07 235.20h5.78v2.45h-5.78zM420.47 235.20h5.78v2.45h-5.78zM443.40 235.20h5.78v2.45h-5.78zM259.94 237.60h5.78v2.45h-5.78zM305.80 237.60h22.98v2.45h-22.98zM323.00 240.00h5.78v2.45h-5.78zM414.74 240.00h5.78v2.45h-5.78zM265.67 242.40h5.78v2.45h-5.78zM334.47 242.40h11.52v2.45h-11.52zM426.20 242.40h5.78v2.45h-5.78zM523.67 242.40h5.78v2.45h-5.78zM340.20 244.80h11.52v2.45h-11.52zM409.00 244.80h5.78v2.45h-5.78zM351.67 247.20h5.78v2.45h-5.78zM357.40 249.60h5.78v2.45h-5.78zM397.54 249.60h5.78v2.45h-5.78zM363.14 252.00h5.78v2.45h-5.78zM391.80 252.00h5.78v2.45h-5.78zM288.60 254.40h5.78v2.45h-5.78zM363.14 254.40h5.78v2.45h-5.78zM386.07 254.40h5.78v2.45h-5.78zM380.34 256.80h5.78v2.45h-5.78zM409.00 256.80h5.78v2.45h-5.78zM300.07 259.20h5.78v2.45h-5.78zM311.54 266.40h5.78v2.45h-5.78zM747.28 271.20h8.77v2.45h-8.77zM334.47 273.60h11.52v2.45h-11.52zM340.20 276.00h11.52v2.45h-11.52zM718.61 276.00h5.78v2.45h-5.78zM351.67 278.40h5.78v2.45h-5.78zM374.60 278.40h5.78v2.45h-5.78zM695.68 278.40h11.52v2.45h-11.52zM363.14 280.80h11.52v2.45h-11.52zM678.48 280.80h5.78v2.45h-5.78zM649.81 283.20h5.78v2.45h-5.78zM626.87 285.60h11.52v2.45h-11.52zM586.74 288.00h28.72v2.45h-28.72zM569.54 295.20h5.78v2.45h-5.78zM672.74 295.20h5.78v2.45h-5.78zM575.27 297.60h5.78v2.45h-5.78zM598.21 302.40h5.78v2.45h-5.78z"/>
<path fill="#9bd93c" d="M151.00 187.20h5.78v2.45h-5.78zM179.67 192.00h17.25v2.45h-17.25zM202.60 192.00h11.52v2.45h-11.52zM483.54 192.00h5.78v2.45h-5.78zM231.27 196.80h5.78v2.45h-5.78zM242.73 201.60h5.78v2.45h-5.78zM449.14 204.00h5.78v2.45h-5.78zM460.61 204.00h5.78v2.45h-5.78zM443.40 206.40h5.78v2.45h-5.78zM156.73 208.80h17.25v2.45h-17.25zM156.73 211.20h5.78v2.45h-5.78zM191.13 211.20h5.78v2.45h-5.78zM196.87 213.60h11.52v2.45h-11.52zM219.80 213.60h11.52v2.45h-11.52zM472.07 213.60h5.78v2.45h-5.78zM214.07 216.00h11.52v2.45h-11.52zM409.00 216.00h5.78v2.45h-5.78zM231.27 218.40h5.78v2.45h-5.78zM472.07 218.40h11.52v2.45h-11.52zM237.00 220.80h5.78v2.45h-5.78zM460.61 220.80h5.78v2.45h-5.78zM449.14 223.20h5.78v2.45h-5.78zM437.67 225.60h5.78v2.45h-5.78zM500.74 225.60h5.78v2.45h-5.78zM282.87 228.00h5.78v2.45h-5.78zM477.81 228.00h11.52v2.45h-11.52zM454.87 230.40h11.52v2.45h-11.52zM254.20 232.80h5.78v2.45h-5.78zM449.14 232.80h5.78v2.45h-5.78zM512.21 235.20h5.78v2.45h-5.78zM265.67 237.60h5.78v2.45h-5.78zM265.67 240.00h5.78v2.45h-5.78zM311.54 240.00h11.52v2.45h-11.52zM271.40 242.40h5.78v2.45h-5.78zM323.00 242.40h11.52v2.45h-11.52zM277.14 244.80h5.78v2.45h-5.78zM277.14 247.20h5.78v2.45h-5.78zM334.47 247.20h17.25v2.45h-17.25zM420.47 247.20h5.78v2.45h-5.78zM282.87 249.60h5.78v2.45h-5.78zM351.67 249.60h5.78v2.45h-5.78zM403.27 249.60h5.78v2.45h-5.78zM512.21 249.60h5.78v2.45h-5.78zM288.60 252.00h5.78v2.45h-5.78zM517.94 254.40h5.78v2.45h-5.78zM535.14 254.40h5.78v2.45h-5.78zM294.34 256.80h5.78v2.45h-5.78zM368.87 256.80h11.52v2.45h-11.52zM403.27 259.20h5.78v2.45h-5.78zM397.54 261.60h5.78v2.45h-5.78zM305.80 264.00h5.78v2.45h-5.78zM546.61 264.00h5.78v2.45h-5.78zM391.80 266.40h5.78v2.45h-5.78zM317.27 268.80h11.52v2.45h-11.52zM323.00 271.20h5.78v2.45h-5.78zM345.94 273.60h5.78v2.45h-5.78zM380.34 273.60h5.78v2.45h-5.78zM741.54 273.60h5.78v2.45h-5.78zM351.67 276.00h5.78v2.45h-5.78zM357.40 278.40h5.78v2.45h-5.78zM368.87 278.40h5.78v2.45h-5.78zM707.14 278.40h5.78v2.45h-5.78zM684.21 280.80h5.78v2.45h-5.78zM655.54 283.20h11.52v2.45h-11.52zM638.34 285.60h5.78v2.45h-5.78zM615.41 288.00h5.78v2.45h-5.78z"/>
<path fill="#90d743" d="M483.54 196.80h5.78v2.45h-5.78zM500.74 199.20h5.78v2.45h-5.78zM466.34 201.60h5.78v2.45h-5.78zM506.47 201.60h5.78v2.45h-5.78zM454.87 204.00h5.78v2.45h-5.78zM151.00 206.40h28.72v2.45h-28.72zM431.94 208.80h5.78v2.45h-5.78zM179.67 211.20h11.52v2.45h-11.52zM196.87 211.20h5.78v2.45h-5.78zM208.33 211.20h17.25v2.45h-17.25zM254.20 211.20h5.78v2.45h-5.78zM231.27 216.00h5.78v2.45h-5.78zM517.94 218.40h5.78v2.45h-5.78zM242.73 220.80h5.78v2.45h-5.78zM242.73 223.20h5.78v2.45h-5.78zM248.47 225.60h5.78v2.45h-5.78zM472.07 228.00h5.78v2.45h-5.78zM489.27 228.00h5.78v2.45h-5.78zM254.20 230.40h5.78v2.45h-5.78zM426.20 232.80h5.78v2.45h-5.78zM443.40 232.80h5.78v2.45h-5.78zM259.94 235.20h5.78v2.45h-5.78zM437.67 235.20h5.78v2.45h-5.78zM500.74 235.20h5.78v2.45h-5.78zM431.94 237.60h5.78v2.45h-5.78zM517.94 237.60h5.78v2.45h-5.78zM305.80 240.00h5.78v2.45h-5.78zM277.14 242.40h5.78v2.45h-5.78zM317.27 242.40h5.78v2.45h-5.78zM506.47 242.40h5.78v2.45h-5.78zM334.47 244.80h5.78v2.45h-5.78zM282.87 247.20h5.78v2.45h-5.78zM345.94 249.60h5.78v2.45h-5.78zM529.41 249.60h5.78v2.45h-5.78zM294.34 252.00h5.78v2.45h-5.78zM357.40 252.00h5.78v2.45h-5.78zM294.34 254.40h5.78v2.45h-5.78zM409.00 254.40h5.78v2.45h-5.78zM363.14 256.80h5.78v2.45h-5.78zM305.80 259.20h5.78v2.45h-5.78zM368.87 259.20h11.52v2.45h-11.52zM523.67 259.20h5.78v2.45h-5.78zM305.80 261.60h5.78v2.45h-5.78zM311.54 264.00h5.78v2.45h-5.78zM391.80 264.00h5.78v2.45h-5.78zM317.27 266.40h5.78v2.45h-5.78zM328.74 266.40h5.78v2.45h-5.78zM328.74 268.80h5.78v2.45h-5.78zM386.07 268.80h5.78v2.45h-5.78zM328.74 271.20h17.25v2.45h-17.25zM552.34 271.20h5.78v2.45h-5.78zM351.67 273.60h11.52v2.45h-11.52zM558.07 273.60h5.78v2.45h-5.78zM735.81 273.60h5.78v2.45h-5.78zM357.40 276.00h5.78v2.45h-5.78zM374.60 276.00h5.78v2.45h-5.78zM363.14 278.40h5.78v2.45h-5.78zM667.01 283.20h5.78v2.45h-5.78zM644.07 285.60h5.78v2.45h-5.78zM581.01 288.00h5.78v2.45h-5.78zM621.14 288.00h5.78v2.45h-5.78zM712.88 290.40h5.78v2.45h-5.78z"/>
<path fill="#86d549" d="M489.27 194.40h5.78v2.45h-5.78zM237.00 199.20h5.78v2.45h-5.78zM477.81 199.20h5.78v2.45h-5.78zM248.47 206.40h5.78v2.45h-5.78zM179.67 208.80h5.78v2.45h-5.78zM202.60 211.20h5.78v2.45h-5.78zM225.53 211.20h5.78v2.45h-5.78zM231.27 213.60h5.78v2.45h-5.78zM483.54 213.60h5.78v2.45h-5.78zM237.00 218.40h5.78v2.45h-5.78zM466.34 228.00h5.78v2.45h-5.78zM391.80 230.40h5.78v2.45h-5.78zM449.14 230.40h5.78v2.45h-5.78zM495.01 230.40h5.78v2.45h-5.78zM259.94 232.80h5.78v2.45h-5.78zM506.47 232.80h5.78v2.45h-5.78zM265.67 235.20h5.78v2.45h-5.78zM386.07 237.60h5.78v2.45h-5.78zM426.20 240.00h5.78v2.45h-5.78zM323.00 244.80h11.52v2.45h-11.52zM420.47 244.80h5.78v2.45h-5.78zM523.67 244.80h5.78v2.45h-5.78zM512.21 247.20h5.78v2.45h-5.78zM288.60 249.60h5.78v2.45h-5.78zM414.74 249.60h5.78v2.45h-5.78zM351.67 252.00h5.78v2.45h-5.78zM517.94 252.00h5.78v2.45h-5.78zM300.07 256.80h5.78v2.45h-5.78zM397.54 259.20h5.78v2.45h-5.78zM391.80 261.60h5.78v2.45h-5.78zM540.87 261.60h5.78v2.45h-5.78zM529.41 264.00h5.78v2.45h-5.78zM323.00 266.40h5.78v2.45h-5.78zM334.47 266.40h5.78v2.45h-5.78zM546.61 266.40h5.78v2.45h-5.78zM345.94 271.20h5.78v2.45h-5.78zM380.34 271.20h5.78v2.45h-5.78zM374.60 273.60h5.78v2.45h-5.78zM724.34 276.00h11.52v2.45h-11.52zM569.54 280.80h5.78v2.45h-5.78zM689.94 280.80h11.52v2.45h-11.52zM672.74 283.20h5.78v2.45h-5.78zM626.87 288.00h5.78v2.45h-5.78zM724.34 288.00h11.52v2.45h-11.52zM598.21 290.40h11.52v2.45h-11.52zM644.07 297.60h5.78v2.45h-5.78z"/>
<path fill="#7ad151" d="M225.53 194.40h5.78v2.45h-5.78zM500.74 194.40h5.78v2.45h-5.78zM454.87 201.60h5.78v2.45h-5.78zM162.47 204.00h5.78v2.45h-5.78zM179.67 206.40h5.78v2.45h-5.78zM185.40 208.80h17.25v2.45h-17.25zM477.81 213.60h5.78v2.45h-5.78zM259.94 216.00h5.78v2.45h-5.78zM242.73 218.40h5.78v2.45h-5.78zM277.14 225.60h5.78v2.45h-5.78zM254.20 228.00h5.78v2.45h-5.78zM397.54 228.00h5.78v2.45h-5.78zM460.61 228.00h5.78v2.45h-5.78zM271.40 235.20h5.78v2.45h-5.78zM294.34 235.20h5.78v2.45h-5.78zM271.40 237.60h5.78v2.45h-5.78zM271.40 240.00h5.78v2.45h-5.78zM311.54 242.40h5.78v2.45h-5.78zM282.87 244.80h5.78v2.45h-5.78zM512.21 244.80h5.78v2.45h-5.78zM288.60 247.20h5.78v2.45h-5.78zM328.74 247.20h5.78v2.45h-5.78zM300.07 252.00h5.78v2.45h-5.78zM397.54 252.00h5.78v2.45h-5.78zM305.80 256.80h5.78v2.45h-5.78zM386.07 256.80h5.78v2.45h-5.78zM403.27 256.80h5.78v2.45h-5.78zM311.54 261.60h5.78v2.45h-5.78zM317.27 264.00h5.78v2.45h-5.78zM386.07 266.40h5.78v2.45h-5.78zM334.47 268.80h17.25v2.45h-17.25zM351.67 271.20h11.52v2.45h-11.52zM363.14 273.60h5.78v2.45h-5.78zM363.14 276.00h11.52v2.45h-11.52zM712.88 278.40h5.78v2.45h-5.78zM701.41 280.80h5.78v2.45h-5.78zM575.27 285.60h5.78v2.45h-5.78zM649.81 285.60h5.78v2.45h-5.78zM632.61 288.00h5.78v2.45h-5.78zM586.74 290.40h11.52v2.45h-11.52zM563.81 292.80h5.78v2.45h-5.78zM689.94 292.80h5.78v2.45h-5.78zM581.01 300.00h5.78v2.45h-5.78zM621.14 300.00h5.78v2.45h-5.78z"/>
<path fill="#70cf57" d="M472.07 199.20h5.78v2.45h-5.78zM156.73 204.00h5.78v2.45h-5.78zM168.20 204.00h11.52v2.45h-11.52zM185.40 206.40h5.78v2.45h-5.78zM202.60 206.40h5.78v2.45h-5.78zM202.60 208.80h5.78v2.45h-5.78zM219.80 208.80h11.52v2.45h-11.52zM231.27 211.20h5.78v2.45h-5.78zM426.20 211.20h5.78v2.45h-5.78zM414.74 213.60h5.78v2.45h-5.78zM466.34 220.80h5.78v2.45h-5.78zM248.47 223.20h5.78v2.45h-5.78zM254.20 225.60h5.78v2.45h-5.78zM397.54 225.60h5.78v2.45h-5.78zM483.54 225.60h11.52v2.45h-11.52zM454.87 228.00h5.78v2.45h-5.78zM259.94 230.40h5.78v2.45h-5.78zM437.67 232.80h5.78v2.45h-5.78zM300.07 237.60h5.78v2.45h-5.78zM277.14 240.00h5.78v2.45h-5.78zM282.87 242.40h5.78v2.45h-5.78zM420.47 242.40h5.78v2.45h-5.78zM294.34 249.60h5.78v2.45h-5.78zM340.20 249.60h5.78v2.45h-5.78zM517.94 249.60h5.78v2.45h-5.78zM409.00 252.00h5.78v2.45h-5.78zM300.07 254.40h5.78v2.45h-5.78zM357.40 254.40h5.78v2.45h-5.78zM523.67 256.80h5.78v2.45h-5.78zM535.14 256.80h5.78v2.45h-5.78zM311.54 259.20h5.78v2.45h-5.78zM380.34 259.20h5.78v2.45h-5.78zM317.27 261.60h5.78v2.45h-5.78zM529.41 261.60h5.78v2.45h-5.78zM323.00 264.00h22.98v2.45h-22.98zM386.07 264.00h5.78v2.45h-5.78zM340.20 266.40h17.25v2.45h-17.25zM351.67 268.80h5.78v2.45h-5.78zM380.34 268.80h5.78v2.45h-5.78zM363.14 271.20h17.25v2.45h-17.25zM368.87 273.60h5.78v2.45h-5.78zM558.07 276.00h5.78v2.45h-5.78zM563.81 278.40h5.78v2.45h-5.78zM678.48 283.20h5.78v2.45h-5.78zM655.54 285.60h11.52v2.45h-11.52zM609.67 290.40h5.78v2.45h-5.78zM667.01 295.20h5.78v2.45h-5.78z"/>
<path fill="#67cc5c" d="M156.73 189.60h5.78v2.45h-5.78zM214.07 194.40h11.52v2.45h-11.52zM151.00 201.60h5.78v2.45h-5.78zM168.20 201.60h5.78v2.45h-5.78zM151.00 204.00h5.78v2.45h-5.78zM437.67 204.00h11.52v2.45h-11.52zM506.47 204.00h5.78v2.45h-5.78zM191.13 206.40h11.52v2.45h-11.52zM208.33 206.40h5.78v2.45h-5.78zM208.33 208.80h11.52v2.45h-11.52zM237.00 216.00h5.78v2.45h-5.78zM477.81 216.00h11.52v2.45h-11.52zM248.47 220.80h5.78v2.45h-5.78zM466.34 225.60h17.25v2.45h-17.25zM259.94 228.00h5.78v2.45h-5.78zM495.01 228.00h5.78v2.45h-5.78zM443.40 230.40h5.78v2.45h-5.78zM265.67 232.80h5.78v2.45h-5.78zM500.74 232.80h5.78v2.45h-5.78zM386.07 235.20h5.78v2.45h-5.78zM431.94 235.20h5.78v2.45h-5.78zM506.47 240.00h5.78v2.45h-5.78zM288.60 244.80h5.78v2.45h-5.78zM300.07 249.60h5.78v2.45h-5.78zM391.80 254.40h5.78v2.45h-5.78zM311.54 256.80h5.78v2.45h-5.78zM317.27 259.20h11.52v2.45h-11.52zM323.00 261.60h5.78v2.45h-5.78zM345.94 264.00h5.78v2.45h-5.78zM357.40 266.40h5.78v2.45h-5.78zM552.34 273.60h5.78v2.45h-5.78zM747.28 273.60h5.78v2.45h-5.78zM718.61 278.40h5.78v2.45h-5.78zM684.21 283.20h5.78v2.45h-5.78z"/>
<path fill="#5ec962" d="M151.00 189.60h5.78v2.45h-5.78zM162.47 189.60h5.78v2.45h-5.78zM173.93 189.60h5.78v2.45h-5.78zM489.27 192.00h5.78v2.45h-5.78zM208.33 194.40h5.78v2.45h-5.78zM156.73 201.60h11.52v2.45h-11.52zM173.93 201.60h5.78v2.45h-5.78zM214.07 206.40h5.78v2.45h-5.78zM225.53 206.40h5.78v2.45h-5.78zM237.00 213.60h5.78v2.45h-5.78zM414.74 216.00h5.78v2.45h-5.78zM472.07 216.00h5.78v2.45h-5.78zM248.47 218.40h5.78v2.45h-5.78zM265.67 230.40h5.78v2.45h-5.78zM277.14 235.20h5.78v2.45h-5.78zM277.14 237.60h5.78v2.45h-5.78zM426.20 237.60h5.78v2.45h-5.78zM506.47 237.60h5.78v2.45h-5.78zM282.87 240.00h5.78v2.45h-5.78zM380.34 240.00h5.78v2.45h-5.78zM414.74 242.40h5.78v2.45h-5.78zM512.21 242.40h5.78v2.45h-5.78zM294.34 244.80h5.78v2.45h-5.78zM317.27 244.80h5.78v2.45h-5.78zM294.34 247.20h5.78v2.45h-5.78zM414.74 247.20h5.78v2.45h-5.78zM305.80 254.40h5.78v2.45h-5.78zM403.27 254.40h5.78v2.45h-5.78zM523.67 254.40h5.78v2.45h-5.78zM397.54 256.80h5.78v2.45h-5.78zM328.74 259.20h5.78v2.45h-5.78zM391.80 259.20h5.78v2.45h-5.78zM328.74 261.60h5.78v2.45h-5.78zM357.40 264.00h5.78v2.45h-5.78zM380.34 266.40h5.78v2.45h-5.78zM357.40 268.80h5.78v2.45h-5.78zM374.60 268.80h5.78v2.45h-5.78zM753.01 273.60h3.04v2.45h-3.04zM707.14 280.80h5.78v2.45h-5.78zM569.54 283.20h5.78v2.45h-5.78zM735.81 285.60h11.52v2.45h-11.52zM638.34 288.00h5.78v2.45h-5.78zM615.41 290.40h5.78v2.45h-5.78zM569.54 292.80h5.78v2.45h-5.78zM661.28 295.20h5.78v2.45h-5.78zM638.34 297.60h5.78v2.45h-5.78z"/>
<path fill="#54c568" d="M168.20 189.60h5.78v2.45h-5.78zM460.61 201.60h5.78v2.45h-5.78zM185.40 204.00h5.78v2.45h-5.78zM219.80 206.40h5.78v2.45h-5.78zM431.94 206.40h5.78v2.45h-5.78zM242.73 216.00h5.78v2.45h-5.78zM409.00 218.40h5.78v2.45h-5.78zM254.20 223.20h5.78v2.45h-5.78zM403.27 223.20h5.78v2.45h-5.78zM443.40 225.60h5.78v2.45h-5.78zM460.61 225.60h5.78v2.45h-5.78zM265.67 228.00h5.78v2.45h-5.78zM449.14 228.00h5.78v2.45h-5.78zM271.40 232.80h5.78v2.45h-5.78zM288.60 232.80h5.78v2.45h-5.78zM420.47 237.60h5.78v2.45h-5.78zM288.60 242.40h5.78v2.45h-5.78zM305.80 249.60h5.78v2.45h-5.78zM305.80 252.00h5.78v2.45h-5.78zM311.54 254.40h5.78v2.45h-5.78zM317.27 256.80h5.78v2.45h-5.78zM328.74 256.80h5.78v2.45h-5.78zM529.41 259.20h5.78v2.45h-5.78zM334.47 261.60h17.25v2.45h-17.25zM351.67 264.00h5.78v2.45h-5.78zM363.14 268.80h11.52v2.45h-11.52zM735.81 276.00h11.52v2.45h-11.52zM689.94 283.20h5.78v2.45h-5.78zM667.01 285.60h5.78v2.45h-5.78zM563.81 290.40h5.78v2.45h-5.78zM581.01 290.40h5.78v2.45h-5.78zM707.14 290.40h5.78v2.45h-5.78zM615.41 300.00h5.78v2.45h-5.78z"/>
<path fill="#4cc26c" d="M202.60 194.40h5.78v2.45h-5.78zM495.01 194.40h5.78v2.45h-5.78zM151.00 199.20h5.78v2.45h-5.78zM179.67 204.00h5.78v2.45h-5.78zM191.13 204.00h5.78v2.45h-5.78zM208.33 204.00h11.52v2.45h-11.52zM231.27 208.80h5.78v2.45h-5.78zM237.00 211.20h5.78v2.45h-5.78zM420.47 213.60h5.78v2.45h-5.78zM512.21 213.60h5.78v2.45h-5.78zM466.34 216.00h5.78v2.45h-5.78zM454.87 218.40h5.78v2.45h-5.78zM271.40 223.20h5.78v2.45h-5.78zM477.81 223.20h5.78v2.45h-5.78zM259.94 225.60h5.78v2.45h-5.78zM431.94 230.40h11.52v2.45h-11.52zM517.94 240.00h5.78v2.45h-5.78zM409.00 247.20h5.78v2.45h-5.78zM517.94 247.20h5.78v2.45h-5.78zM334.47 249.60h5.78v2.45h-5.78zM345.94 252.00h5.78v2.45h-5.78zM523.67 252.00h5.78v2.45h-5.78zM317.27 254.40h5.78v2.45h-5.78zM323.00 256.80h5.78v2.45h-5.78zM334.47 256.80h5.78v2.45h-5.78zM334.47 259.20h5.78v2.45h-5.78zM368.87 261.60h5.78v2.45h-5.78zM386.07 261.60h5.78v2.45h-5.78zM535.14 266.40h5.78v2.45h-5.78zM730.08 278.40h5.78v2.45h-5.78zM621.14 290.40h5.78v2.45h-5.78zM684.21 292.80h5.78v2.45h-5.78z"/>
<path fill="#44bf70" d="M156.73 199.20h5.78v2.45h-5.78zM173.93 199.20h5.78v2.45h-5.78zM196.87 204.00h11.52v2.45h-11.52zM460.61 218.40h5.78v2.45h-5.78zM489.27 220.80h5.78v2.45h-5.78zM472.07 223.20h5.78v2.45h-5.78zM483.54 223.20h5.78v2.45h-5.78zM495.01 223.20h5.78v2.45h-5.78zM500.74 230.40h5.78v2.45h-5.78zM282.87 237.60h5.78v2.45h-5.78zM517.94 244.80h5.78v2.45h-5.78zM300.07 247.20h5.78v2.45h-5.78zM311.54 252.00h5.78v2.45h-5.78zM529.41 256.80h5.78v2.45h-5.78zM340.20 259.20h5.78v2.45h-5.78zM363.14 259.20h5.78v2.45h-5.78zM374.60 261.60h5.78v2.45h-5.78zM363.14 266.40h5.78v2.45h-5.78zM724.34 278.40h5.78v2.45h-5.78zM695.68 283.20h5.78v2.45h-5.78zM644.07 288.00h5.78v2.45h-5.78zM632.61 297.60h5.78v2.45h-5.78z"/>
<path fill="#3bbb75" d="M162.47 199.20h11.52v2.45h-11.52zM219.80 204.00h11.52v2.45h-11.52zM437.67 206.40h5.78v2.45h-5.78zM242.73 211.20h5.78v2.45h-5.78zM242.73 213.60h5.78v2.45h-5.78zM248.47 216.00h5.78v2.45h-5.78zM254.20 220.80h5.78v2.45h-5.78zM495.01 225.60h5.78v2.45h-5.78zM277.14 232.80h5.78v2.45h-5.78zM294.34 242.40h5.78v2.45h-5.78zM414.74 244.80h5.78v2.45h-5.78zM323.00 247.20h5.78v2.45h-5.78zM351.67 254.40h5.78v2.45h-5.78zM345.94 259.20h5.78v2.45h-5.78zM351.67 261.60h5.78v2.45h-5.78zM380.34 264.00h5.78v2.45h-5.78zM374.60 266.40h5.78v2.45h-5.78zM712.88 280.80h5.78v2.45h-5.78zM747.28 283.20h5.78v2.45h-5.78zM626.87 290.40h5.78v2.45h-5.78zM592.47 292.80h11.52v2.45h-11.52z"/>
<path fill="#35b779" d="M483.54 194.40h5.78v2.45h-5.78zM156.73 196.80h11.52v2.45h-11.52zM191.13 201.60h11.52v2.45h-11.52zM214.07 201.60h11.52v2.45h-11.52zM231.27 206.40h5.78v2.45h-5.78zM512.21 211.20h5.78v2.45h-5.78zM403.27 220.80h5.78v2.45h-5.78zM472.07 220.80h5.78v2.45h-5.78zM454.87 223.20h5.78v2.45h-5.78zM454.87 225.60h5.78v2.45h-5.78zM500.74 228.00h5.78v2.45h-5.78zM431.94 232.80h5.78v2.45h-5.78zM288.60 240.00h5.78v2.45h-5.78zM409.00 249.60h5.78v2.45h-5.78zM323.00 254.40h5.78v2.45h-5.78zM535.14 264.00h5.78v2.45h-5.78zM546.61 276.00h5.78v2.45h-5.78zM753.01 283.20h3.04v2.45h-3.04zM672.74 285.60h5.78v2.45h-5.78zM649.81 288.00h5.78v2.45h-5.78zM701.41 290.40h5.78v2.45h-5.78zM655.54 295.20h5.78v2.45h-5.78zM609.67 300.00h5.78v2.45h-5.78z"/>
<path fill="#2fb47c" d="M191.13 194.40h11.52v2.45h-11.52zM168.20 196.80h11.52v2.45h-11.52zM225.53 201.60h5.78v2.45h-5.78zM231.27 204.00h5.78v2.45h-5.78zM517.94 220.80h5.78v2.45h-5.78zM489.27 223.20h5.78v2.45h-5.78zM271.40 230.40h5.78v2.45h-5.78zM282.87 230.40h5.78v2.45h-5.78zM328.74 249.60h5.78v2.45h-5.78zM523.67 249.60h5.78v2.45h-5.78zM317.27 252.00h5.78v2.45h-5.78zM340.20 256.80h5.78v2.45h-5.78zM357.40 256.80h5.78v2.45h-5.78zM357.40 261.60h5.78v2.45h-5.78zM540.87 271.20h5.78v2.45h-5.78zM552.34 283.20h5.78v2.45h-5.78zM655.54 288.00h5.78v2.45h-5.78zM603.94 300.00h5.78v2.45h-5.78z"/>
<path fill="#2ab07f" d="M151.00 196.80h5.78v2.45h-5.78zM179.67 199.20h5.78v2.45h-5.78zM179.67 201.60h11.52v2.45h-11.52zM202.60 201.60h11.52v2.45h-11.52zM426.20 208.80h5.78v2.45h-5.78zM259.94 223.20h5.78v2.45h-5.78zM443.40 228.00h5.78v2.45h-5.78zM420.47 240.00h5.78v2.45h-5.78zM300.07 244.80h5.78v2.45h-5.78zM311.54 249.60h5.78v2.45h-5.78zM535.14 261.60h5.78v2.45h-5.78zM363.14 264.00h5.78v2.45h-5.78zM540.87 268.80h11.52v2.45h-11.52zM718.61 280.80h5.78v2.45h-5.78zM678.48 285.60h5.78v2.45h-5.78zM575.27 288.00h5.78v2.45h-5.78zM586.74 292.80h5.78v2.45h-5.78zM678.48 292.80h5.78v2.45h-5.78z"/>
<path fill="#25ac82" d="M185.40 194.40h5.78v2.45h-5.78zM477.81 196.80h5.78v2.45h-5.78zM237.00 208.80h5.78v2.45h-5.78zM254.20 218.40h5.78v2.45h-5.78zM265.67 220.80h5.78v2.45h-5.78zM477.81 220.80h5.78v2.45h-5.78zM265.67 225.60h5.78v2.45h-5.78zM512.21 240.00h5.78v2.45h-5.78zM305.80 242.40h5.78v2.45h-5.78zM305.80 247.20h5.78v2.45h-5.78zM328.74 254.40h5.78v2.45h-5.78zM529.41 254.40h5.78v2.45h-5.78zM368.87 266.40h5.78v2.45h-5.78zM701.41 283.20h5.78v2.45h-5.78zM558.07 285.60h5.78v2.45h-5.78zM563.81 288.00h5.78v2.45h-5.78zM718.61 288.00h5.78v2.45h-5.78zM603.94 292.80h5.78v2.45h-5.78zM586.74 300.00h5.78v2.45h-5.78z"/>
<path fill="#22a884" d="M151.00 192.00h5.78v2.45h-5.78zM179.67 196.80h11.52v2.45h-11.52zM202.60 196.80h11.52v2.45h-11.52zM500.74 196.80h5.78v2.45h-5.78zM185.40 199.20h5.78v2.45h-5.78zM196.87 199.20h5.78v2.45h-5.78zM242.73 208.80h5.78v2.45h-5.78zM483.54 220.80h5.78v2.45h-5.78zM466.34 223.20h5.78v2.45h-5.78zM340.20 252.00h5.78v2.45h-5.78zM351.67 259.20h5.78v2.45h-5.78zM540.87 264.00h5.78v2.45h-5.78zM632.61 290.40h5.78v2.45h-5.78z"/>
<path fill="#20a486" d="M168.20 192.00h11.52v2.45h-11.52zM179.67 194.40h5.78v2.45h-5.78zM191.13 196.80h5.78v2.45h-5.78zM225.53 196.80h5.78v2.45h-5.78zM191.13 199.20h5.78v2.45h-5.78zM202.60 199.20h5.78v2.45h-5.78zM231.27 199.20h5.78v2.45h-5.78zM248.47 208.80h5.78v2.45h-5.78zM248.47 213.60h5.78v2.45h-5.78zM437.67 228.00h5.78v2.45h-5.78zM282.87 235.20h5.78v2.45h-5.78zM506.47 235.20h5.78v2.45h-5.78zM512.21 237.60h5.78v2.45h-5.78zM311.54 244.80h5.78v2.45h-5.78zM403.27 252.00h5.78v2.45h-5.78zM397.54 254.40h5.78v2.45h-5.78z"/>
<path fill="#1fa188" d="M156.73 192.00h5.78v2.45h-5.78zM495.01 192.00h5.78v2.45h-5.78zM162.47 194.40h11.52v2.45h-11.52zM196.87 196.80h5.78v2.45h-5.78zM214.07 196.80h5.78v2.45h-5.78zM225.53 199.20h5.78v2.45h-5.78zM231.27 201.60h11.52v2.45h-11.52zM254.20 213.60h5.78v2.45h-5.78zM271.40 228.00h5.78v2.45h-5.78zM300.07 240.00h5.78v2.45h-5.78zM317.27 247.20h5.78v2.45h-5.78zM323.00 252.00h5.78v2.45h-5.78zM334.47 254.40h5.78v2.45h-5.78zM345.94 256.80h11.52v2.45h-11.52zM363.14 261.60h5.78v2.45h-5.78zM380.34 261.60h5.78v2.45h-5.78zM368.87 264.00h11.52v2.45h-11.52zM552.34 280.80h5.78v2.45h-5.78zM609.67 292.80h5.78v2.45h-5.78zM626.87 297.60h5.78v2.45h-5.78z"/>
<path fill="#1e9c89" d="M162.47 192.00h5.78v2.45h-5.78zM219.80 196.80h5.78v2.45h-5.78zM219.80 199.20h5.78v2.45h-5.78zM242.73 204.00h5.78v2.45h-5.78zM237.00 206.40h5.78v2.45h-5.78zM259.94 218.40h5.78v2.45h-5.78zM460.61 223.20h5.78v2.45h-5.78zM271.40 225.60h5.78v2.45h-5.78zM426.20 235.20h5.78v2.45h-5.78zM300.07 242.40h5.78v2.45h-5.78zM323.00 249.60h5.78v2.45h-5.78zM340.20 254.40h11.52v2.45h-11.52zM386.07 259.20h5.78v2.45h-5.78zM546.61 273.60h5.78v2.45h-5.78zM558.07 278.40h5.78v2.45h-5.78zM563.81 280.80h5.78v2.45h-5.78z"/>
<path fill="#1f988b" d="M151.00 194.40h11.52v2.45h-11.52zM173.93 194.40h5.78v2.45h-5.78zM208.33 199.20h11.52v2.45h-11.52zM237.00 204.00h5.78v2.45h-5.78zM420.47 211.20h5.78v2.45h-5.78zM449.14 225.60h5.78v2.45h-5.78zM288.60 237.60h5.78v2.45h-5.78zM517.94 242.40h5.78v2.45h-5.78zM311.54 247.20h5.78v2.45h-5.78zM529.41 252.00h5.78v2.45h-5.78zM391.80 256.80h5.78v2.45h-5.78zM558.07 283.20h5.78v2.45h-5.78zM649.81 295.20h5.78v2.45h-5.78zM592.47 300.00h11.52v2.45h-11.52z"/>
<path fill="#1f948c" d="M254.20 216.00h5.78v2.45h-5.78zM259.94 220.80h5.78v2.45h-5.78zM277.14 228.00h5.78v2.45h-5.78zM282.87 232.80h5.78v2.45h-5.78zM288.60 235.20h5.78v2.45h-5.78zM317.27 249.60h5.78v2.45h-5.78zM357.40 259.20h5.78v2.45h-5.78z"/>
<path fill="#21918c" d="M248.47 211.20h5.78v2.45h-5.78zM294.34 237.60h5.78v2.45h-5.78zM328.74 252.00h5.78v2.45h-5.78zM753.01 276.00h3.04v2.45h-3.04zM684.21 285.60h5.78v2.45h-5.78z"/>
<path fill="#228c8d" d="M277.14 230.40h5.78v2.45h-5.78zM294.34 240.00h5.78v2.45h-5.78zM334.47 252.00h5.78v2.45h-5.78zM747.28 276.00h5.78v2.45h-5.78zM695.68 290.40h5.78v2.45h-5.78z"/>
<path fill="#23888e" d="M265.67 223.20h5.78v2.45h-5.78zM305.80 244.80h5.78v2.45h-5.78zM523.67 247.20h5.78v2.45h-5.78zM661.28 288.00h5.78v2.45h-5.78z"/>
<path fill="#25848e" d="M242.73 206.40h5.78v2.45h-5.78zM535.14 259.20h5.78v2.45h-5.78zM672.74 292.80h5.78v2.45h-5.78zM575.27 295.20h5.78v2.45h-5.78z"/>
<path fill="#287c8e" d="M552.34 278.40h5.78v2.45h-5.78z"/>
<path fill="#2d708e" d="M540.87 266.40h5.78v2.45h-5.78zM707.14 283.20h5.78v2.45h-5.78zM615.41 292.80h5.78v2.45h-5.78z"/>
<path fill="#2f6c8e" d="M552.34 276.00h5.78v2.45h-5.78zM569.54 285.60h5.78v2.45h-5.78z"/>
<path fill="#32648e" d="M563.81 285.60h5.78v2.45h-5.78zM712.88 288.00h5.78v2.45h-5.78z"/>
<path fill="#355f8d" d="M735.81 278.40h5.78v2.45h-5.78zM638.34 290.40h5.78v2.45h-5.78z"/>
<path fill="#375b8d" d="M644.07 295.20h5.78v2.45h-5.78z"/>
<path fill="#39568c" d="M741.54 278.40h5.78v2.45h-5.78z"/>
<path fill="#3b528b" d="M546.61 271.20h5.78v2.45h-5.78zM689.94 285.60h5.78v2.45h-5.78z"/>
<path fill="#3d4d8a" d="M558.07 280.80h5.78v2.45h-5.78z"/>
<path fill="#3f4889" d="M724.34 280.80h5.78v2.45h-5.78zM730.08 285.60h5.78v2.45h-5.78z"/>
<path fill="#414487" d="M581.01 292.80h5.78v2.45h-5.78zM621.14 297.60h5.78v2.45h-5.78z"/>
<path fill="#433e85" d="M753.01 278.40h3.04v2.45h-3.04zM747.28 280.80h5.78v2.45h-5.78zM667.01 288.00h5.78v2.45h-5.78zM667.01 292.80h5.78v2.45h-5.78zM581.01 297.60h5.78v2.45h-5.78z"/>
<path fill="#443983" d="M730.08 280.80h5.78v2.45h-5.78zM724.34 285.60h5.78v2.45h-5.78zM569.54 290.40h5.78v2.45h-5.78zM621.14 292.80h5.78v2.45h-5.78zM638.34 295.20h5.78v2.45h-5.78z"/>
<path fill="#463480" d="M712.88 283.20h5.78v2.45h-5.78z"/>
<path fill="#472f7d" d="M741.54 280.80h5.78v2.45h-5.78zM753.01 280.80h3.04v2.45h-3.04zM741.54 283.20h5.78v2.45h-5.78z"/>
<path fill="#482979" d="M747.28 278.40h5.78v2.45h-5.78zM575.27 290.40h5.78v2.45h-5.78zM689.94 290.40h5.78v2.45h-5.78z"/>
<path fill="#482475" d="M735.81 280.80h5.78v2.45h-5.78zM735.81 283.20h5.78v2.45h-5.78zM644.07 290.40h5.78v2.45h-5.78z"/>
<path fill="#481f70" d="M563.81 283.20h5.78v2.45h-5.78zM718.61 283.20h5.78v2.45h-5.78zM707.14 288.00h5.78v2.45h-5.78zM609.67 297.60h11.52v2.45h-11.52z"/>
<path fill="#481a6c" d="M649.81 290.40h5.78v2.45h-5.78zM661.28 292.80h5.78v2.45h-5.78z"/>
<path fill="#471365" d="M695.68 285.60h5.78v2.45h-5.78zM672.74 288.00h5.78v2.45h-5.78zM575.27 292.80h5.78v2.45h-5.78zM592.47 295.20h5.78v2.45h-5.78z"/>
<path fill="#470d60" d="M586.74 295.20h5.78v2.45h-5.78zM632.61 295.20h5.78v2.45h-5.78zM603.94 297.60h5.78v2.45h-5.78z"/>
<path fill="#46075a" d="M678.48 288.00h5.78v2.45h-5.78z"/>
<path fill="#440154" d="M724.34 283.20h11.52v2.45h-11.52zM701.41 285.60h22.98v2.45h-22.98zM569.54 288.00h5.78v2.45h-5.78zM684.21 288.00h22.98v2.45h-22.98zM655.54 290.40h34.45v2.45h-34.45zM626.87 292.80h34.45v2.45h-34.45zM581.01 295.20h5.78v2.45h-5.78zM598.21 295.20h34.45v2.45h-34.45zM586.74 297.60h17.25v2.45h-17.25z"/>
</g>
<path d="M154.5 60.0V420.0M181.5 60.0V420.0M200.5 60.0V420.0M215.5 60.0V420.0M227.5 60.0V420.0M237.5 60.0V420.0M246.5 60.0V420.0M253.5 60.0V420.0M306.5 60.0V420.0M333.5 60.0V420.0M352.5 60.0V420.0M367.5 60.0V420.0M379.5 60.0V420.0M389.5 60.0V420.0M398.5 60.0V420.0M406.5 60.0V420.0M459.5 60.0V420.0M485.5 60.0V420.0M504.5 60.0V420.0M519.5 60.0V420.0M531.5 60.0V420.0M542.5 60.0V420.0M550.5 60.0V420.0M558.5 60.0V420.0M611.5 60.0V420.0M638.5 60.0V420.0M657.5 60.0V420.0M672.5 60.0V420.0M684.5 60.0V420.0M694.5 60.0V420.0M703.5 60.0V420.0M711.5 60.0V420.0M260.5 60.0V420.0M413.5 60.0V420.0M565.5 60.0V420.0M717.5 60.0V420.0M108.0 372.5H756.0M108.0 324.5H756.0M108.0 276.5H756.0M108.0 228.5H756.0M108.0 180.5H756.0M108.0 132.5H756.0M108.0 84.5H756.0" stroke="#b0b0b0" stroke-width="1" fill="none"/>
<polyline points="260.37,159.60 312.54,173.76 312.54,173.77 337.34,205.21 337.34,205.20 397.97,227.99 501.08,175.20 513.72,171.59 534.53,182.40 549.51,212.40 549.51,212.39 593.68,227.99 593.68,228.01 610.97,272.40 610.97,272.39 756.00,249.53" fill="none" stroke="#666666" stroke-width="2.78" stroke-linejoin="round" stroke-linecap="butt"/>
<polyline points="260.37,343.20 295.48,340.08 352.10,340.08 397.97,346.07 397.97,346.08 426.97,332.88 470.67,296.75 509.26,278.63 519.24,278.64 531.30,297.59 565.10,333.00 577.17,339.00 594.53,329.10 616.98,366.00 616.98,366.01 641.24,384.01 641.24,383.99 664.63,389.99 664.63,390.00 693.87,390.00 718.13,384.01 746.05,384.00 746.05,383.97 756.00,385.16" fill="none" stroke="#666666" stroke-width="2.78" stroke-linejoin="round" stroke-linecap="butt"/>
<rect x="108.5" y="60.5" width="648.0" height="360.0" fill="none" stroke="#000" stroke-width="1.1"/>
<path d="M108.5 420.5v4.9M260.5 420.5v4.9M413.5 420.5v4.9M565.5 420.5v4.9M717.5 420.5v4.9M108.5 420.5h-4.9M108.5 372.5h-4.9M108.5 324.5h-4.9M108.5 276.5h-4.9M108.5 228.5h-4.9M108.5 180.5h-4.9M108.5 132.5h-4.9M108.5 84.5h-4.9" stroke="#000" stroke-width="1.1" fill="none"/>
<path d="M154.5 420.5v2.8M181.5 420.5v2.8M200.5 420.5v2.8M215.5 420.5v2.8M227.5 420.5v2.8M237.5 420.5v2.8M246.5 420.5v2.8M253.5 420.5v2.8M306.5 420.5v2.8M333.5 420.5v2.8M352.5 420.5v2.8M367.5 420.5v2.8M379.5 420.5v2.8M389.5 420.5v2.8M398.5 420.5v2.8M406.5 420.5v2.8M459.5 420.5v2.8M485.5 420.5v2.8M504.5 420.5v2.8M519.5 420.5v2.8M531.5 420.5v2.8M542.5 420.5v2.8M550.5 420.5v2.8M558.5 420.5v2.8M611.5 420.5v2.8M638.5 420.5v2.8M657.5 420.5v2.8M672.5 420.5v2.8M684.5 420.5v2.8M694.5 420.5v2.8M703.5 420.5v2.8M711.5 420.5v2.8" stroke="#000" stroke-width="0.85" fill="none"/>
<g font-family="'Liberation Sans', sans-serif">
<text x="131.70" y="52.00" font-size="14.30" textLength="89.77" lengthAdjust="spacingAndGlyphs" fill="#000">HL.ARG..HHZ</text><text x="227.26" y="52.00" font-size="14.30" textLength="3.25" lengthAdjust="spacingAndGlyphs" fill="#000">|</text><text x="236.30" y="52.00" font-size="14.30" textLength="55.74" lengthAdjust="spacingAndGlyphs" fill="#000">100.0Hz</text><text x="297.83" y="52.00" font-size="14.30" textLength="3.25" lengthAdjust="spacingAndGlyphs" fill="#000">|</text><text x="306.87" y="52.00" font-size="14.30" textLength="149.24" lengthAdjust="spacingAndGlyphs" fill="#000">2025-12-05T00:00:01</text><text x="461.90" y="52.00" font-size="14.30" textLength="3.58" lengthAdjust="spacingAndGlyphs" fill="#000">-</text><text x="471.26" y="52.00" font-size="14.30" textLength="149.24" lengthAdjust="spacingAndGlyphs" fill="#000">2025-12-10T22:00:01</text><text x="626.29" y="52.00" font-size="14.30" textLength="3.25" lengthAdjust="spacingAndGlyphs" fill="#000">|</text><text x="635.33" y="52.00" font-size="14.30" textLength="24.95" lengthAdjust="spacingAndGlyphs" fill="#000">268</text><text x="666.06" y="52.00" font-size="14.30" textLength="66.33" lengthAdjust="spacingAndGlyphs" fill="#000">segments</text>
<text x="93.74" y="441.20" font-size="14.30" textLength="29.53" lengthAdjust="spacingAndGlyphs" fill="#000">0.01</text>
<text x="250.16" y="441.20" font-size="14.30" textLength="20.69" lengthAdjust="spacingAndGlyphs" fill="#000">0.1</text>
<text x="409.78" y="441.20" font-size="14.30" textLength="7.44" lengthAdjust="spacingAndGlyphs" fill="#000">1</text>
<text x="557.36" y="441.20" font-size="14.30" textLength="16.27" lengthAdjust="spacingAndGlyphs" fill="#000">10</text>
<text x="704.94" y="441.20" font-size="14.30" textLength="25.11" lengthAdjust="spacingAndGlyphs" fill="#000">100</text>
<text x="399.80" y="460.10" font-size="14.30" textLength="41.91" lengthAdjust="spacingAndGlyphs" fill="#000">Period</text><text x="447.52" y="460.10" font-size="14.30" textLength="16.67" lengthAdjust="spacingAndGlyphs" fill="#000">[s]</text>
<text x="60.85" y="425.60" font-size="14.30" textLength="36.75" lengthAdjust="spacingAndGlyphs" fill="#000">−200</text>
<text x="60.85" y="377.60" font-size="14.30" textLength="36.75" lengthAdjust="spacingAndGlyphs" fill="#000">−180</text>
<text x="60.85" y="329.60" font-size="14.30" textLength="36.75" lengthAdjust="spacingAndGlyphs" fill="#000">−160</text>
<text x="60.85" y="281.60" font-size="14.30" textLength="36.75" lengthAdjust="spacingAndGlyphs" fill="#000">−140</text>
<text x="60.85" y="233.60" font-size="14.30" textLength="36.75" lengthAdjust="spacingAndGlyphs" fill="#000">−120</text>
<text x="60.85" y="185.60" font-size="14.30" textLength="36.75" lengthAdjust="spacingAndGlyphs" fill="#000">−100</text>
<text x="69.69" y="137.60" font-size="14.30" textLength="27.91" lengthAdjust="spacingAndGlyphs" fill="#000">−80</text>
<text x="69.69" y="89.60" font-size="14.30" textLength="27.91" lengthAdjust="spacingAndGlyphs" fill="#000">−60</text>
<text x="825.30" y="425.60" font-size="14.30" textLength="7.44" lengthAdjust="spacingAndGlyphs" fill="#000">0</text>
<text x="825.30" y="365.60" font-size="14.30" textLength="7.44" lengthAdjust="spacingAndGlyphs" fill="#000">5</text>
<text x="825.30" y="305.60" font-size="14.30" textLength="16.27" lengthAdjust="spacingAndGlyphs" fill="#000">10</text>
<text x="825.30" y="245.60" font-size="14.30" textLength="16.27" lengthAdjust="spacingAndGlyphs" fill="#000">15</text>
<text x="825.30" y="185.60" font-size="14.30" textLength="16.27" lengthAdjust="spacingAndGlyphs" fill="#000">20</text>
<text x="825.30" y="125.60" font-size="14.30" textLength="16.27" lengthAdjust="spacingAndGlyphs" fill="#000">25</text>
<text x="825.30" y="65.60" font-size="14.30" textLength="16.27" lengthAdjust="spacingAndGlyphs" fill="#000">30</text>
</g>
<g shape-rendering="crispEdges">
<rect x="797.5" y="60.000" width="18.0" height="1.706" fill="#440154"/>
<rect x="797.5" y="61.406" width="18.0" height="1.706" fill="#440256"/>
<rect x="797.5" y="62.812" width="18.0" height="1.706" fill="#450457"/>
<rect x="797.5" y="64.219" width="18.0" height="1.706" fill="#450559"/>
<rect x="797.5" y="65.625" width="18.0" height="1.706" fill="#46075a"/>
<rect x="797.5" y="67.031" width="18.0" height="1.706" fill="#46085c"/>
<rect x="797.5" y="68.438" width="18.0" height="1.706" fill="#460a5d"/>
<rect x="797.5" y="69.844" width="18.0" height="1.706" fill="#460b5e"/>
<rect x="797.5" y="71.250" width="18.0" height="1.706" fill="#470d60"/>
<rect x="797.5" y="72.656" width="18.0" height="1.706" fill="#470e61"/>
<rect x="797.5" y="74.062" width="18.0" height="1.706" fill="#471063"/>
<rect x="797.5" y="75.469" width="18.0" height="1.706" fill="#471164"/>
<rect x="797.5" y="76.875" width="18.0" height="1.706" fill="#471365"/>
<rect x="797.5" y="78.281" width="18.0" height="1.706" fill="#481467"/>
<rect x="797.5" y="79.688" width="18.0" height="1.706" fill="#481668"/>
<rect x="797.5" y="81.094" width="18.0" height="1.706" fill="#481769"/>
<rect x="797.5" y="82.500" width="18.0" height="1.706" fill="#48186a"/>
<rect x="797.5" y="83.906" width="18.0" height="1.706" fill="#481a6c"/>
<rect x="797.5" y="85.312" width="18.0" height="1.706" fill="#481b6d"/>
<rect x="797.5" y="86.719" width="18.0" height="1.706" fill="#481c6e"/>
<rect x="797.5" y="88.125" width="18.0" height="1.706" fill="#481d6f"/>
<rect x="797.5" y="89.531" width="18.0" height="1.706" fill="#481f70"/>
<rect x="797.5" y="90.938" width="18.0" height="1.706" fill="#482071"/>
<rect x="797.5" y="92.344" width="18.0" height="1.706" fill="#482173"/>
<rect x="797.5" y="93.750" width="18.0" height="1.706" fill="#482374"/>
<rect x="797.5" y="95.156" width="18.0" height="1.706" fill="#482475"/>
<rect x="797.5" y="96.562" width="18.0" height="1.706" fill="#482576"/>
<rect x="797.5" y="97.969" width="18.0" height="1.706" fill="#482677"/>
<rect x="797.5" y="99.375" width="18.0" height="1.706" fill="#482878"/>
<rect x="797.5" y="100.781" width="18.0" height="1.706" fill="#482979"/>
<rect x="797.5" y="102.188" width="18.0" height="1.706" fill="#472a7a"/>
<rect x="797.5" y="103.594" width="18.0" height="1.706" fill="#472c7a"/>
<rect x="797.5" y="105.000" width="18.0" height="1.706" fill="#472d7b"/>
<rect x="797.5" y="106.406" width="18.0" height="1.706" fill="#472e7c"/>
<rect x="797.5" y="107.812" width="18.0" height="1.706" fill="#472f7d"/>
<rect x="797.5" y="109.219" width="18.0" height="1.706" fill="#46307e"/>
<rect x="797.5" y="110.625" width="18.0" height="1.706" fill="#46327e"/>
<rect x="797.5" y="112.031" width="18.0" height="1.706" fill="#46337f"/>
<rect x="797.5" y="113.438" width="18.0" height="1.706" fill="#463480"/>
<rect x="797.5" y="114.844" width="18.0" height="1.706" fill="#453581"/>
<rect x="797.5" y="116.250" width="18.0" height="1.706" fill="#453781"/>
<rect x="797.5" y="117.656" width="18.0" height="1.706" fill="#453882"/>
<rect x="797.5" y="119.062" width="18.0" height="1.706" fill="#443983"/>
<rect x="797.5" y="120.469" width="18.0" height="1.706" fill="#443a83"/>
<rect x="797.5" y="121.875" width="18.0" height="1.706" fill="#443b84"/>
<rect x="797.5" y="123.281" width="18.0" height="1.706" fill="#433d84"/>
<rect x="797.5" y="124.688" width="18.0" height="1.706" fill="#433e85"/>
<rect x="797.5" y="126.094" width="18.0" height="1.706" fill="#423f85"/>
<rect x="797.5" y="127.500" width="18.0" height="1.706" fill="#424086"/>
<rect x="797.5" y="128.906" width="18.0" height="1.706" fill="#424186"/>
<rect x="797.5" y="130.312" width="18.0" height="1.706" fill="#414287"/>
<rect x="797.5" y="131.719" width="18.0" height="1.706" fill="#414487"/>
<rect x="797.5" y="133.125" width="18.0" height="1.706" fill="#404588"/>
<rect x="797.5" y="134.531" width="18.0" height="1.706" fill="#404688"/>
<rect x="797.5" y="135.938" width="18.0" height="1.706" fill="#3f4788"/>
<rect x="797.5" y="137.344" width="18.0" height="1.706" fill="#3f4889"/>
<rect x="797.5" y="138.750" width="18.0" height="1.706" fill="#3e4989"/>
<rect x="797.5" y="140.156" width="18.0" height="1.706" fill="#3e4a89"/>
<rect x="797.5" y="141.562" width="18.0" height="1.706" fill="#3e4c8a"/>
<rect x="797.5" y="142.969" width="18.0" height="1.706" fill="#3d4d8a"/>
<rect x="797.5" y="144.375" width="18.0" height="1.706" fill="#3d4e8a"/>
<rect x="797.5" y="145.781" width="18.0" height="1.706" fill="#3c4f8a"/>
<rect x="797.5" y="147.188" width="18.0" height="1.706" fill="#3c508b"/>
<rect x="797.5" y="148.594" width="18.0" height="1.706" fill="#3b518b"/>
<rect x="797.5" y="150.000" width="18.0" height="1.706" fill="#3b528b"/>
<rect x="797.5" y="151.406" width="18.0" height="1.706" fill="#3a538b"/>
<rect x="797.5" y="152.812" width="18.0" height="1.706" fill="#3a548c"/>
<rect x="797.5" y="154.219" width="18.0" height="1.706" fill="#39558c"/>
<rect x="797.5" y="155.625" width="18.0" height="1.706" fill="#39568c"/>
<rect x="797.5" y="157.031" width="18.0" height="1.706" fill="#38588c"/>
<rect x="797.5" y="158.438" width="18.0" height="1.706" fill="#38598c"/>
<rect x="797.5" y="159.844" width="18.0" height="1.706" fill="#375a8c"/>
<rect x="797.5" y="161.250" width="18.0" height="1.706" fill="#375b8d"/>
<rect x="797.5" y="162.656" width="18.0" height="1.706" fill="#365c8d"/>
<rect x="797.5" y="164.062" width="18.0" height="1.706" fill="#365d8d"/>
<rect x="797.5" y="165.469" width="18.0" height="1.706" fill="#355e8d"/>
<rect x="797.5" y="166.875" width="18.0" height="1.706" fill="#355f8d"/>
<rect x="797.5" y="168.281" width="18.0" height="1.706" fill="#34608d"/>
<rect x="797.5" y="169.688" width="18.0" height="1.706" fill="#34618d"/>
<rect x="797.5" y="171.094" width="18.0" height="1.706" fill="#33628d"/>
<rect x="797.5" y="172.500" width="18.0" height="1.706" fill="#33638d"/>
<rect x="797.5" y="173.906" width="18.0" height="1.706" fill="#32648e"/>
<rect x="797.5" y="175.312" width="18.0" height="1.706" fill="#32658e"/>
<rect x="797.5" y="176.719" width="18.0" height="1.706" fill="#31668e"/>
<rect x="797.5" y="178.125" width="18.0" height="1.706" fill="#31678e"/>
<rect x="797.5" y="179.531" width="18.0" height="1.706" fill="#31688e"/>
<rect x="797.5" y="180.938" width="18.0" height="1.706" fill="#30698e"/>
<rect x="797.5" y="182.344" width="18.0" height="1.706" fill="#306a8e"/>
<rect x="797.5" y="183.750" width="18.0" height="1.706" fill="#2f6b8e"/>
<rect x="797.5" y="185.156" width="18.0" height="1.706" fill="#2f6c8e"/>
<rect x="797.5" y="186.562" width="18.0" height="1.706" fill="#2e6d8e"/>
<rect x="797.5" y="187.969" width="18.0" height="1.706" fill="#2e6e8e"/>
<rect x="797.5" y="189.375" width="18.0" height="1.706" fill="#2e6f8e"/>
<rect x="797.5" y="190.781" width="18.0" height="1.706" fill="#2d708e"/>
<rect x="797.5" y="192.188" width="18.0" height="1.706" fill="#2d718e"/>
<rect x="797.5" y="193.594" width="18.0" height="1.706" fill="#2c718e"/>
<rect x="797.5" y="195.000" width="18.0" height="1.706" fill="#2c728e"/>
<rect x="797.5" y="196.406" width="18.0" height="1.706" fill="#2c738e"/>
<rect x="797.5" y="197.812" width="18.0" height="1.706" fill="#2b748e"/>
<rect x="797.5" y="199.219" width="18.0" height="1.706" fill="#2b758e"/>
<rect x="797.5" y="200.625" width="18.0" height="1.706" fill="#2a768e"/>
<rect x="797.5" y="202.031" width="18.0" height="1.706" fill="#2a778e"/>
<rect x="797.5" y="203.438" width="18.0" height="1.706" fill="#2a788e"/>
<rect x="797.5" y="204.844" width="18.0" height="1.706" fill="#29798e"/>
<rect x="797.5" y="206.250" width="18.0" height="1.706" fill="#297a8e"/>
<rect x="797.5" y="207.656" width="18.0" height="1.706" fill="#297b8e"/>
<rect x="797.5" y="209.062" width="18.0" height="1.706" fill="#287c8e"/>
<rect x="797.5" y="210.469" width="18.0" height="1.706" fill="#287d8e"/>
<rect x="797.5" y="211.875" width="18.0" height="1.706" fill="#277e8e"/>
<rect x="797.5" y="213.281" width="18.0" height="1.706" fill="#277f8e"/>
<rect x="797.5" y="214.688" width="18.0" height="1.706" fill="#27808e"/>
<rect x="797.5" y="216.094" width="18.0" height="1.706" fill="#26818e"/>
<rect x="797.5" y="217.500" width="18.0" height="1.706" fill="#26828e"/>
<rect x="797.5" y="218.906" width="18.0" height="1.706" fill="#26828e"/>
<rect x="797.5" y="220.312" width="18.0" height="1.706" fill="#25838e"/>
<rect x="797.5" y="221.719" width="18.0" height="1.706" fill="#25848e"/>
<rect x="797.5" y="223.125" width="18.0" height="1.706" fill="#25858e"/>
<rect x="797.5" y="224.531" width="18.0" height="1.706" fill="#24868e"/>
<rect x="797.5" y="225.938" width="18.0" height="1.706" fill="#24878e"/>
<rect x="797.5" y="227.344" width="18.0" height="1.706" fill="#23888e"/>
<rect x="797.5" y="228.750" width="18.0" height="1.706" fill="#23898e"/>
<rect x="797.5" y="230.156" width="18.0" height="1.706" fill="#238a8d"/>
<rect x="797.5" y="231.562" width="18.0" height="1.706" fill="#228b8d"/>
<rect x="797.5" y="232.969" width="18.0" height="1.706" fill="#228c8d"/>
<rect x="797.5" y="234.375" width="18.0" height="1.706" fill="#228d8d"/>
<rect x="797.5" y="235.781" width="18.0" height="1.706" fill="#218e8d"/>
<rect x="797.5" y="237.188" width="18.0" height="1.706" fill="#218f8d"/>
<rect x="797.5" y="238.594" width="18.0" height="1.706" fill="#21908d"/>
<rect x="797.5" y="240.000" width="18.0" height="1.706" fill="#21918c"/>
<rect x="797.5" y="241.406" width="18.0" height="1.706" fill="#20928c"/>
<rect x="797.5" y="242.812" width="18.0" height="1.706" fill="#20928c"/>
<rect x="797.5" y="244.219" width="18.0" height="1.706" fill="#20938c"/>
<rect x="797.5" y="245.625" width="18.0" height="1.706" fill="#1f948c"/>
<rect x="797.5" y="247.031" width="18.0" height="1.706" fill="#1f958b"/>
<rect x="797.5" y="248.438" width="18.0" height="1.706" fill="#1f968b"/>
<rect x="797.5" y="249.844" width="18.0" height="1.706" fill="#1f978b"/>
<rect x="797.5" y="251.250" width="18.0" height="1.706" fill="#1f988b"/>
<rect x="797.5" y="252.656" width="18.0" height="1.706" fill="#1f998a"/>
<rect x="797.5" y="254.062" width="18.0" height="1.706" fill="#1f9a8a"/>
<rect x="797.5" y="255.469" width="18.0" height="1.706" fill="#1e9b8a"/>
<rect x="797.5" y="256.875" width="18.0" height="1.706" fill="#1e9c89"/>
<rect x="797.5" y="258.281" width="18.0" height="1.706" fill="#1e9d89"/>
<rect x="797.5" y="259.688" width="18.0" height="1.706" fill="#1f9e89"/>
<rect x="797.5" y="261.094" width="18.0" height="1.706" fill="#1f9f88"/>
<rect x="797.5" y="262.500" width="18.0" height="1.706" fill="#1fa088"/>
<rect x="797.5" y="263.906" width="18.0" height="1.706" fill="#1fa188"/>
<rect x="797.5" y="265.312" width="18.0" height="1.706" fill="#1fa187"/>
<rect x="797.5" y="266.719" width="18.0" height="1.706" fill="#1fa287"/>
<rect x="797.5" y="268.125" width="18.0" height="1.706" fill="#20a386"/>
<rect x="797.5" y="269.531" width="18.0" height="1.706" fill="#20a486"/>
<rect x="797.5" y="270.938" width="18.0" height="1.706" fill="#21a585"/>
<rect x="797.5" y="272.344" width="18.0" height="1.706" fill="#21a685"/>
<rect x="797.5" y="273.750" width="18.0" height="1.706" fill="#22a785"/>
<rect x="797.5" y="275.156" width="18.0" height="1.706" fill="#22a884"/>
<rect x="797.5" y="276.562" width="18.0" height="1.706" fill="#23a983"/>
<rect x="797.5" y="277.969" width="18.0" height="1.706" fill="#24aa83"/>
<rect x="797.5" y="279.375" width="18.0" height="1.706" fill="#25ab82"/>
<rect x="797.5" y="280.781" width="18.0" height="1.706" fill="#25ac82"/>
<rect x="797.5" y="282.188" width="18.0" height="1.706" fill="#26ad81"/>
<rect x="797.5" y="283.594" width="18.0" height="1.706" fill="#27ad81"/>
<rect x="797.5" y="285.000" width="18.0" height="1.706" fill="#28ae80"/>
<rect x="797.5" y="286.406" width="18.0" height="1.706" fill="#29af7f"/>
<rect x="797.5" y="287.812" width="18.0" height="1.706" fill="#2ab07f"/>
<rect x="797.5" y="289.219" width="18.0" height="1.706" fill="#2cb17e"/>
<rect x="797.5" y="290.625" width="18.0" height="1.706" fill="#2db27d"/>
<rect x="797.5" y="292.031" width="18.0" height="1.706" fill="#2eb37c"/>
<rect x="797.5" y="293.438" width="18.0" height="1.706" fill="#2fb47c"/>
<rect x="797.5" y="294.844" width="18.0" height="1.706" fill="#31b57b"/>
<rect x="797.5" y="296.250" width="18.0" height="1.706" fill="#32b67a"/>
<rect x="797.5" y="297.656" width="18.0" height="1.706" fill="#34b679"/>
<rect x="797.5" y="299.062" width="18.0" height="1.706" fill="#35b779"/>
<rect x="797.5" y="300.469" width="18.0" height="1.706" fill="#37b878"/>
<rect x="797.5" y="301.875" width="18.0" height="1.706" fill="#38b977"/>
<rect x="797.5" y="303.281" width="18.0" height="1.706" fill="#3aba76"/>
<rect x="797.5" y="304.688" width="18.0" height="1.706" fill="#3bbb75"/>
<rect x="797.5" y="306.094" width="18.0" height="1.706" fill="#3dbc74"/>
<rect x="797.5" y="307.500" width="18.0" height="1.706" fill="#3fbc73"/>
<rect x="797.5" y="308.906" width="18.0" height="1.706" fill="#40bd72"/>
<rect x="797.5" y="310.312" width="18.0" height="1.706" fill="#42be71"/>
<rect x="797.5" y="311.719" width="18.0" height="1.706" fill="#44bf70"/>
<rect x="797.5" y="313.125" width="18.0" height="1.706" fill="#46c06f"/>
<rect x="797.5" y="314.531" width="18.0" height="1.706" fill="#48c16e"/>
<rect x="797.5" y="315.938" width="18.0" height="1.706" fill="#4ac16d"/>
<rect x="797.5" y="317.344" width="18.0" height="1.706" fill="#4cc26c"/>
<rect x="797.5" y="318.750" width="18.0" height="1.706" fill="#4ec36b"/>
<rect x="797.5" y="320.156" width="18.0" height="1.706" fill="#50c46a"/>
<rect x="797.5" y="321.562" width="18.0" height="1.706" fill="#52c569"/>
<rect x="797.5" y="322.969" width="18.0" height="1.706" fill="#54c568"/>
<rect x="797.5" y="324.375" width="18.0" height="1.706" fill="#56c667"/>
<rect x="797.5" y="325.781" width="18.0" height="1.706" fill="#58c765"/>
<rect x="797.5" y="327.188" width="18.0" height="1.706" fill="#5ac864"/>
<rect x="797.5" y="328.594" width="18.0" height="1.706" fill="#5cc863"/>
<rect x="797.5" y="330.000" width="18.0" height="1.706" fill="#5ec962"/>
<rect x="797.5" y="331.406" width="18.0" height="1.706" fill="#60ca60"/>
<rect x="797.5" y="332.812" width="18.0" height="1.706" fill="#63cb5f"/>
<rect x="797.5" y="334.219" width="18.0" height="1.706" fill="#65cb5e"/>
<rect x="797.5" y="335.625" width="18.0" height="1.706" fill="#67cc5c"/>
<rect x="797.5" y="337.031" width="18.0" height="1.706" fill="#69cd5b"/>
<rect x="797.5" y="338.438" width="18.0" height="1.706" fill="#6ccd5a"/>
<rect x="797.5" y="339.844" width="18.0" height="1.706" fill="#6ece58"/>
<rect x="797.5" y="341.250" width="18.0" height="1.706" fill="#70cf57"/>
<rect x="797.5" y="342.656" width="18.0" height="1.706" fill="#73d056"/>
<rect x="797.5" y="344.062" width="18.0" height="1.706" fill="#75d054"/>
<rect x="797.5" y="345.469" width="18.0" height="1.706" fill="#77d153"/>
<rect x="797.5" y="346.875" width="18.0" height="1.706" fill="#7ad151"/>
<rect x="797.5" y="348.281" width="18.0" height="1.706" fill="#7cd250"/>
<rect x="797.5" y="349.688" width="18.0" height="1.706" fill="#7fd34e"/>
<rect x="797.5" y="351.094" width="18.0" height="1.706" fill="#81d34d"/>
<rect x="797.5" y="352.500" width="18.0" height="1.706" fill="#84d44b"/>
<rect x="797.5" y="353.906" width="18.0" height="1.706" fill="#86d549"/>
<rect x="797.5" y="355.312" width="18.0" height="1.706" fill="#89d548"/>
<rect x="797.5" y="356.719" width="18.0" height="1.706" fill="#8bd646"/>
<rect x="797.5" y="358.125" width="18.0" height="1.706" fill="#8ed645"/>
<rect x="797.5" y="359.531" width="18.0" height="1.706" fill="#90d743"/>
<rect x="797.5" y="360.938" width="18.0" height="1.706" fill="#93d741"/>
<rect x="797.5" y="362.344" width="18.0" height="1.706" fill="#95d840"/>
<rect x="797.5" y="363.750" width="18.0" height="1.706" fill="#98d83e"/>
<rect x="797.5" y="365.156" width="18.0" height="1.706" fill="#9bd93c"/>
<rect x="797.5" y="366.562" width="18.0" height="1.706" fill="#9dd93b"/>
<rect x="797.5" y="367.969" width="18.0" height="1.706" fill="#a0da39"/>
<rect x="797.5" y="369.375" width="18.0" height="1.706" fill="#a2da37"/>
<rect x="797.5" y="370.781" width="18.0" height="1.706" fill="#a5db36"/>
<rect x="797.5" y="372.188" width="18.0" height="1.706" fill="#a8db34"/>
<rect x="797.5" y="373.594" width="18.0" height="1.706" fill="#aadc32"/>
<rect x="797.5" y="375.000" width="18.0" height="1.706" fill="#addc30"/>
<rect x="797.5" y="376.406" width="18.0" height="1.706" fill="#b0dd2f"/>
<rect x="797.5" y="377.812" width="18.0" height="1.706" fill="#b2dd2d"/>
<rect x="797.5" y="379.219" width="18.0" height="1.706" fill="#b5de2b"/>
<rect x="797.5" y="380.625" width="18.0" height="1.706" fill="#b8de29"/>
<rect x="797.5" y="382.031" width="18.0" height="1.706" fill="#bade28"/>
<rect x="797.5" y="383.438" width="18.0" height="1.706" fill="#bddf26"/>
<rect x="797.5" y="384.844" width="18.0" height="1.706" fill="#c0df25"/>
<rect x="797.5" y="386.250" width="18.0" height="1.706" fill="#c2df23"/>
<rect x="797.5" y="387.656" width="18.0" height="1.706" fill="#c5e021"/>
<rect x="797.5" y="389.062" width="18.0" height="1.706" fill="#c8e020"/>
<rect x="797.5" y="390.469" width="18.0" height="1.706" fill="#cae11f"/>
<rect x="797.5" y="391.875" width="18.0" height="1.706" fill="#cde11d"/>
<rect x="797.5" y="393.281" width="18.0" height="1.706" fill="#d0e11c"/>
<rect x="797.5" y="394.688" width="18.0" height="1.706" fill="#d2e21b"/>
<rect x="797.5" y="396.094" width="18.0" height="1.706" fill="#d5e21a"/>
<rect x="797.5" y="397.500" width="18.0" height="1.706" fill="#d8e219"/>
<rect x="797.5" y="398.906" width="18.0" height="1.706" fill="#dae319"/>
<rect x="797.5" y="400.312" width="18.0" height="1.706" fill="#dde318"/>
<rect x="797.5" y="401.719" width="18.0" height="1.706" fill="#dfe318"/>
<rect x="797.5" y="403.125" width="18.0" height="1.706" fill="#e2e418"/>
<rect x="797.5" y="404.531" width="18.0" height="1.706" fill="#e5e419"/>
<rect x="797.5" y="405.938" width="18.0" height="1.706" fill="#e7e419"/>
<rect x="797.5" y="407.344" width="18.0" height="1.706" fill="#eae51a"/>
<rect x="797.5" y="408.750" width="18.0" height="1.706" fill="#ece51b"/>
<rect x="797.5" y="410.156" width="18.0" height="1.706" fill="#efe51c"/>
<rect x="797.5" y="411.562" width="18.0" height="1.706" fill="#f1e51d"/>
<rect x="797.5" y="412.969" width="18.0" height="1.706" fill="#f4e61e"/>
<rect x="797.5" y="414.375" width="18.0" height="1.706" fill="#f6e620"/>
<rect x="797.5" y="415.781" width="18.0" height="1.706" fill="#f8e621"/>
<rect x="797.5" y="417.188" width="18.0" height="1.706" fill="#fbe723"/>
<rect x="797.5" y="418.594" width="18.0" height="1.706" fill="#fde725"/>
</g>
<rect x="797.5" y="60.5" width="18.0" height="360.0" fill="none" stroke="#000" stroke-width="1.1"/>
<path d="M815.8 420.5h4.9M815.8 360.5h4.9M815.8 300.5h4.9M815.8 240.5h4.9M815.8 180.5h4.9M815.8 120.5h4.9M815.8 60.5h4.9" stroke="#000" stroke-width="1.1" fill="none"/>
<g font-family="'Liberation Sans', sans-serif">
<g transform="translate(858.6 242.6) rotate(-90)"><text x="-11.32" y="0.00" font-size="14.30" textLength="22.64" lengthAdjust="spacingAndGlyphs" fill="#000">[%]</text></g>
<g transform="translate(47.2 240) rotate(-90)">
<text x="-91.00" y="0.00" font-size="14.30" textLength="71.26" lengthAdjust="spacingAndGlyphs">Amplitude</text><text x="-14.26" y="0.00" font-size="14.30" textLength="4.50" lengthAdjust="spacingAndGlyphs">[</text>
<text x="-8.76" y="0.00" font-size="14.30" textLength="12.74" lengthAdjust="spacingAndGlyphs" font-style="italic">m</text>
<text x="4.98" y="-5.30" font-size="10.01" textLength="5.28" lengthAdjust="spacingAndGlyphs">2</text>
<text x="11.26" y="0.00" font-size="14.30" textLength="11.10" lengthAdjust="spacingAndGlyphs" font-style="italic">/s</text>
<text x="23.35" y="-5.30" font-size="10.01" textLength="5.28" lengthAdjust="spacingAndGlyphs">4</text>
<text x="29.63" y="0.00" font-size="14.30" textLength="21.76" lengthAdjust="spacingAndGlyphs" font-style="italic">/Hz</text>
<text x="52.39" y="0.00" font-size="14.30" textLength="4.50" lengthAdjust="spacingAndGlyphs">]</text><text x="62.37" y="0.00" font-size="14.30" textLength="28.63" lengthAdjust="spacingAndGlyphs">[dB]</text>
</g>
</g>
<g shape-rendering="crispEdges">
<rect x="164.0" y="474.5" width="93.0" height="9.4" fill="#008000"/>
<rect x="260.0" y="474.5" width="93.0" height="9.4" fill="#008000"/>
<rect x="355.0" y="474.5" width="94.0" height="9.4" fill="#008000"/>
<rect x="451.0" y="474.5" width="94.0" height="9.4" fill="#008000"/>
<rect x="547.0" y="474.5" width="93.0" height="9.4" fill="#008000"/>
<rect x="643.0" y="474.5" width="93.0" height="9.4" fill="#008000"/>
<rect x="164.0" y="483.9" width="22.0" height="14.6" fill="#0000ff"/>
<rect x="187.0" y="483.9" width="68.0" height="14.6" fill="#0000ff"/>
<rect x="260.0" y="483.9" width="91.0" height="14.6" fill="#0000ff"/>
<rect x="355.0" y="483.9" width="92.0" height="14.6" fill="#0000ff"/>
<rect x="451.0" y="483.9" width="92.0" height="14.6" fill="#0000ff"/>
<rect x="547.0" y="483.9" width="91.0" height="14.6" fill="#0000ff"/>
<rect x="643.0" y="483.9" width="92.0" height="14.6" fill="#0000ff"/>
</g>
<rect x="135.5" y="474.5" width="630.0" height="24.0" fill="none" stroke="#000" stroke-width="1.1"/>
<path d="M164.5 498.5v4.9M260.5 498.5v4.9M355.5 498.5v4.9M451.5 498.5v4.9M547.5 498.5v4.9M643.5 498.5v4.9M739.5 498.5v4.9" stroke="#000" stroke-width="1.1" fill="none"/>
<g font-family="'Liberation Sans', sans-serif">
<g transform="translate(161.60 517.60) rotate(-30)"><text x="-80.02" y="0.00" font-size="14.30" textLength="79.32" lengthAdjust="spacingAndGlyphs" fill="#000">2025-12-05</text></g>
<g transform="translate(257.60 517.60) rotate(-30)"><text x="-80.02" y="0.00" font-size="14.30" textLength="79.32" lengthAdjust="spacingAndGlyphs" fill="#000">2025-12-06</text></g>
<g transform="translate(352.60 517.60) rotate(-30)"><text x="-80.02" y="0.00" font-size="14.30" textLength="79.32" lengthAdjust="spacingAndGlyphs" fill="#000">2025-12-07</text></g>
<g transform="translate(448.60 517.60) rotate(-30)"><text x="-80.02" y="0.00" font-size="14.30" textLength="79.32" lengthAdjust="spacingAndGlyphs" fill="#000">2025-12-08</text></g>
<g transform="translate(544.60 517.60) rotate(-30)"><text x="-80.02" y="0.00" font-size="14.30" textLength="79.32" lengthAdjust="spacingAndGlyphs" fill="#000">2025-12-09</text></g>
<g transform="translate(640.60 517.60) rotate(-30)"><text x="-80.02" y="0.00" font-size="14.30" textLength="79.32" lengthAdjust="spacingAndGlyphs" fill="#000">2025-12-10</text></g>
<g transform="translate(736.60 517.60) rotate(-30)"><text x="-80.02" y="0.00" font-size="14.30" textLength="79.32" lengthAdjust="spacingAndGlyphs" fill="#000">2025-12-11</text></g>
</g>
<rect x="0" y="577" width="900" height="23" fill="#808080"/>
<g font-family="'Liberation Sans', sans-serif">
<text x="9.30" y="595.10" font-size="14.30" textLength="72.10" lengthAdjust="spacingAndGlyphs" fill="#fff">Generated</text><text x="87.20" y="595.10" font-size="14.30" textLength="15.59" lengthAdjust="spacingAndGlyphs" fill="#fff">by</text><text x="108.60" y="595.10" font-size="14.30" textLength="61.05" lengthAdjust="spacingAndGlyphs" fill="#fff">SeedPSD</text><text x="175.45" y="595.10" font-size="14.30" textLength="15.86" lengthAdjust="spacingAndGlyphs" fill="#fff">on</text><text x="197.11" y="595.10" font-size="14.30" textLength="79.11" lengthAdjust="spacingAndGlyphs" fill="#fff">2025-12-12</text><text x="282.03" y="595.10" font-size="14.30" textLength="3.27" lengthAdjust="spacingAndGlyphs" fill="#fff">|</text><text x="291.10" y="595.10" font-size="14.30" textLength="83.10" lengthAdjust="spacingAndGlyphs" fill="#fff">Calculations</text><text x="380.01" y="595.10" font-size="14.30" textLength="56.21" lengthAdjust="spacingAndGlyphs" fill="#fff">updated</text><text x="442.02" y="595.10" font-size="14.30" textLength="15.86" lengthAdjust="spacingAndGlyphs" fill="#fff">on</text><text x="463.68" y="595.10" font-size="14.30" textLength="79.11" lengthAdjust="spacingAndGlyphs" fill="#fff">2025-12-11</text>
</g>
</svg>
</body>
</html>
